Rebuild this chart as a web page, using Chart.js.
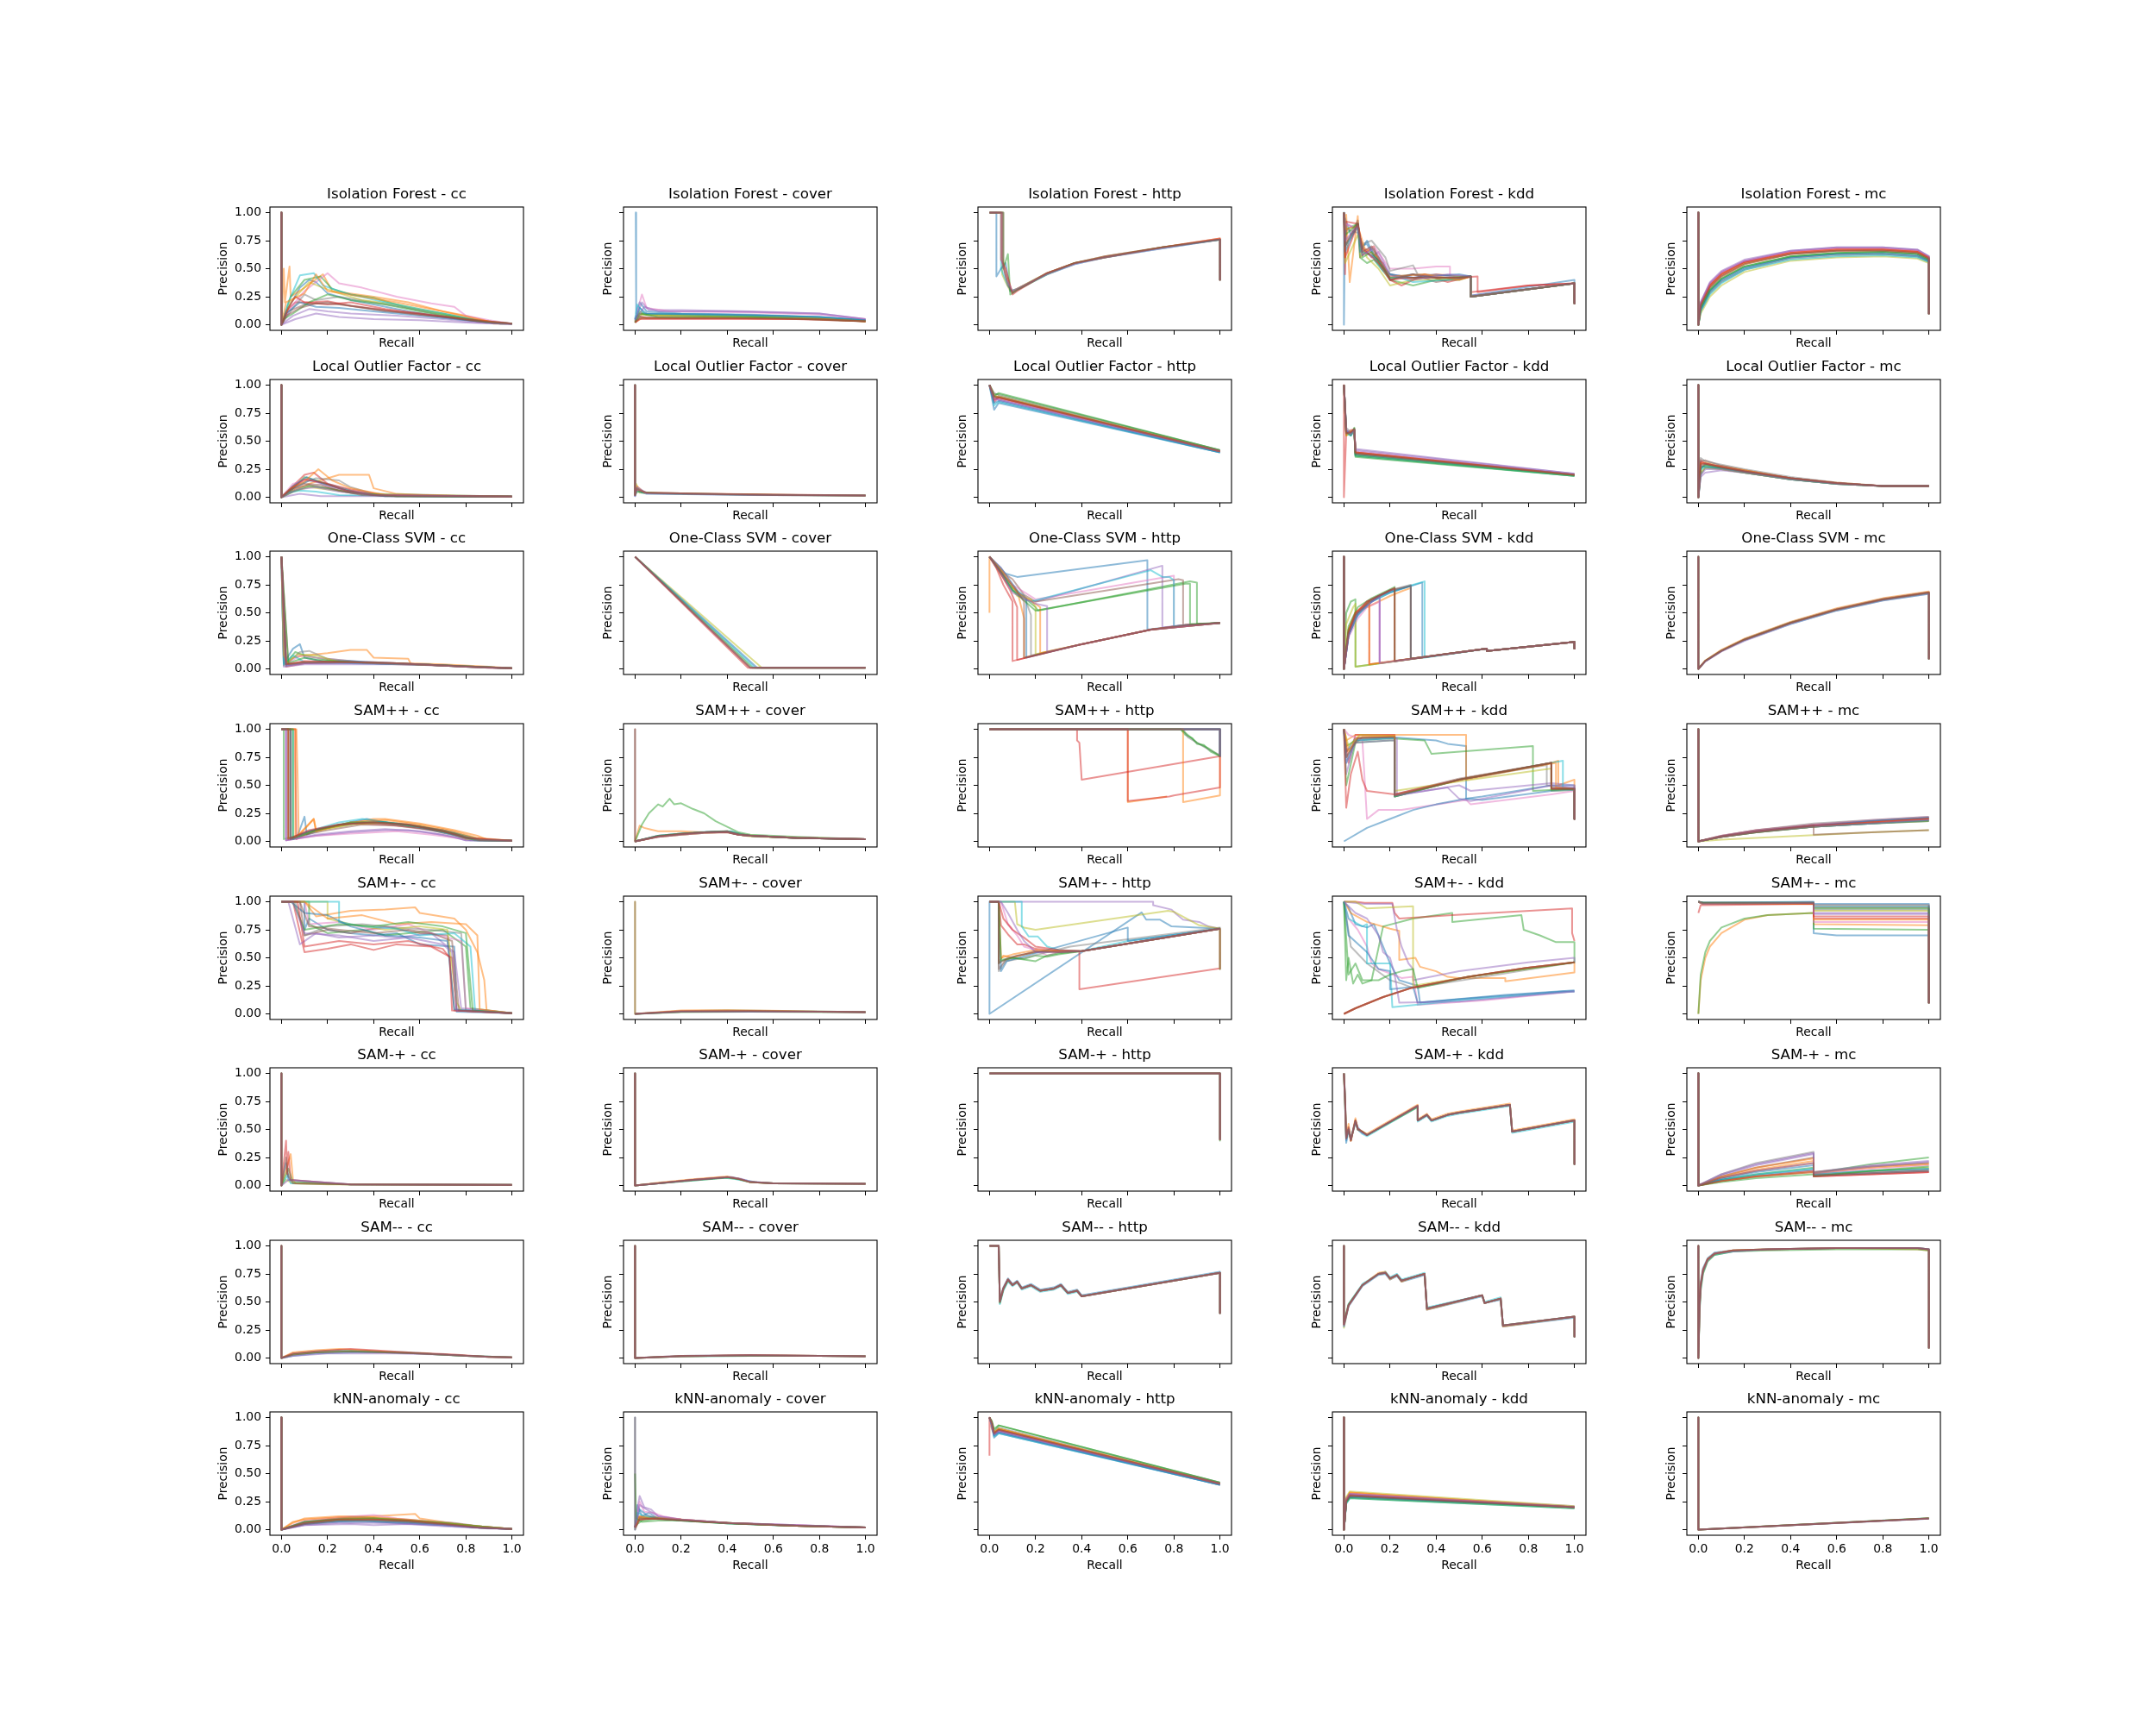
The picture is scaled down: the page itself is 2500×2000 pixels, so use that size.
<!DOCTYPE html>
<html>
<head>
<meta charset="utf-8">
<script src="https://cdn.jsdelivr.net/npm/chart.js"></script>
<style>
  body { margin: 0; background: #fff; }
  #fig { position: relative; width: 2500px; height: 2000px; background: #fff; }
  #fig canvas { position: absolute; }
</style>
</head>
<body>
<div id="fig"></div>
<script>
// Row / column labels and ticks
const methods = ['Isolation Forest', 'Local Outlier Factor', 'One-Class SVM', 'SAM++', 'SAM+-', 'SAM-+', 'SAM--', 'kNN-anomaly'];
const dataNames = ['cc', 'cover', 'http', 'kdd', 'mc'];
const xTicks = [0, 0.2, 0.4, 0.6, 0.8, 1.0];
const yTicks = [0, 0.25, 0.5, 0.75, 1.0];

// Each panel: list of runs, every run a flat list recall,precision,recall,precision,...
// --- Isolation Forest ---
const IF_CC = [
  [0,1, 0,0, 0.03,0.15, 0.08,0.33, 0.12,0.4, 0.15,0.38, 0.2,0.28, 0.3,0.22, 0.4,0.18, 0.55,0.12, 0.7,0.07, 0.85,0.03, 0.95,0.01, 1,0.01],
  [0,1, 0,0, 0.01,0.5, 0.015,0.2, 0.035,0.52, 0.04,0.25, 0.1,0.33, 0.18,0.45, 0.22,0.3, 0.4,0.25, 0.55,0.2, 0.7,0.12, 0.8,0.08, 0.88,0.04, 0.92,0.01, 1,0.01],
  [0,1, 0,0, 0.04,0.25, 0.1,0.4, 0.17,0.43, 0.22,0.32, 0.3,0.27, 0.4,0.24, 0.55,0.15, 0.7,0.1, 0.85,0.04, 0.95,0.01, 1,0.01],
  [0,1, 0,0, 0.02,0.12, 0.06,0.2, 0.12,0.2, 0.2,0.21, 0.3,0.17, 0.45,0.13, 0.6,0.09, 0.75,0.06, 0.9,0.02, 1,0.01],
  [0,1, 0,0, 0.05,0.08, 0.12,0.14, 0.2,0.12, 0.3,0.1, 0.5,0.08, 0.7,0.05, 0.85,0.02, 1,0.005],
  [0,1, 0,0, 0.03,0.12, 0.1,0.18, 0.2,0.2, 0.3,0.17, 0.45,0.12, 0.6,0.1, 0.75,0.06, 0.9,0.02, 1,0.01],
  [0,1, 0,0, 0.04,0.15, 0.1,0.3, 0.2,0.46, 0.25,0.37, 0.35,0.33, 0.5,0.25, 0.65,0.19, 0.75,0.16, 0.8,0.08, 0.9,0.04, 1,0.01],
  [0,1, 0,0, 0.05,0.15, 0.1,0.27, 0.15,0.22, 0.25,0.25, 0.4,0.2, 0.55,0.15, 0.7,0.08, 0.85,0.04, 1,0.01],
  [0,1, 0,0, 0.04,0.2, 0.12,0.38, 0.18,0.33, 0.25,0.28, 0.35,0.22, 0.5,0.18, 0.65,0.12, 0.8,0.05, 1,0.01],
  [0,1, 0,0, 0.03,0.2, 0.08,0.44, 0.14,0.46, 0.18,0.35, 0.28,0.28, 0.45,0.2, 0.6,0.14, 0.75,0.08, 0.9,0.02, 1,0.01],
  [0,1, 0,0, 0.02,0.1, 0.08,0.2, 0.15,0.16, 0.25,0.15, 0.4,0.12, 0.6,0.08, 0.8,0.04, 1,0.01],
  [0,1, 0,0, 0.02,0.2, 0.1,0.28, 0.15,0.45, 0.2,0.3, 0.35,0.25, 0.5,0.2, 0.7,0.12, 0.85,0.05, 0.92,0.02, 1,0.01],
  [0,1, 0,0, 0.01,0.05, 0.05,0.1, 0.12,0.2, 0.2,0.27, 0.3,0.22, 0.45,0.18, 0.6,0.12, 0.75,0.07, 0.9,0.02, 1,0.01],
  [0,1, 0,0, 0.03,0.15, 0.06,0.25, 0.1,0.2, 0.2,0.18, 0.3,0.2, 0.45,0.14, 0.6,0.1, 0.8,0.05, 1,0.01],
  [0,1, 0,0, 0.06,0.05, 0.15,0.1, 0.25,0.07, 0.4,0.05, 0.6,0.04, 0.8,0.02, 1,0.005],
  [0,1, 0,0, 0.02,0.08, 0.08,0.15, 0.15,0.19, 0.25,0.18, 0.4,0.14, 0.55,0.1, 0.7,0.07, 0.85,0.03, 1,0.01]
];
const IF_COVER = [
  [0,1, 0.003,1, 0.005,0.1, 0.02,0.2, 0.05,0.12, 0.2,0.1, 0.5,0.09, 0.8,0.07, 1,0.04],
  [0,0.05, 0.02,0.1, 0.1,0.08, 0.4,0.07, 0.8,0.06, 1,0.03],
  [0,0.02, 0.02,0.12, 0.05,0.09, 0.3,0.08, 0.7,0.07, 1,0.04],
  [0,0.03, 0.01,0.08, 0.05,0.06, 0.4,0.06, 0.8,0.05, 1,0.03],
  [0,0.05, 0.03,0.2, 0.06,0.13, 0.2,0.13, 0.5,0.12, 0.8,0.1, 1,0.05],
  [0,0.02, 0.02,0.07, 0.2,0.06, 0.6,0.06, 1,0.03],
  [0,0.05, 0.03,0.27, 0.05,0.15, 0.15,0.12, 0.5,0.11, 0.8,0.09, 1,0.05],
  [0,0.03, 0.03,0.1, 0.2,0.09, 0.6,0.08, 1,0.04],
  [0,0.03, 0.02,0.09, 0.3,0.08, 0.7,0.07, 1,0.03],
  [0,0.05, 0.01,0.18, 0.04,0.1, 0.3,0.09, 0.8,0.07, 1,0.04],
  [0,0.04, 0.02,0.15, 0.05,0.1, 0.4,0.09, 0.8,0.07, 1,0.04],
  [0,0.02, 0.03,0.06, 0.3,0.06, 0.8,0.05, 1,0.03],
  [0,0.02, 0.02,0.1, 0.1,0.07, 0.5,0.07, 1,0.03],
  [0,0.02, 0.02,0.05, 0.3,0.05, 0.7,0.05, 1,0.03],
  [0,0.04, 0.04,0.16, 0.1,0.12, 0.4,0.12, 0.8,0.1, 1,0.05],
  [0,0.02, 0.02,0.06, 0.4,0.06, 0.8,0.05, 1,0.03]
];
const IF_HTTP = [
  [0,1, 0.055,1, 0.055,0.45, 0.07,0.38, 0.09,0.3, 0.12,0.32, 0.25,0.46, 0.37,0.55, 0.5,0.6, 0.75,0.69, 1,0.76, 1,0.4],
  [0,1, 0.05,1, 0.05,0.5, 0.08,0.35, 0.1,0.28, 0.12,0.31, 0.25,0.45, 0.37,0.54, 0.5,0.6, 0.75,0.68, 1,0.76, 1,0.4],
  [0,1, 0.03,1, 0.03,0.43, 0.05,0.5, 0.07,0.55, 0.09,0.3, 0.12,0.32, 0.25,0.46, 0.37,0.55, 0.5,0.6, 0.75,0.69, 1,0.76, 1,0.4],
  [0,1, 0.055,1, 0.055,0.6, 0.07,0.45, 0.1,0.29, 0.12,0.32, 0.25,0.46, 0.37,0.55, 0.5,0.6, 0.75,0.69, 1,0.77, 1,0.4],
  [0,1, 0.06,1, 0.06,0.5, 0.08,0.63, 0.09,0.27, 0.12,0.31, 0.25,0.45, 0.37,0.55, 0.5,0.61, 0.75,0.69, 1,0.76, 1,0.4],
  [0,1, 0.05,1, 0.05,0.58, 0.07,0.5, 0.1,0.27, 0.12,0.3, 0.25,0.46, 0.37,0.55, 0.5,0.61, 0.75,0.69, 1,0.77, 1,0.4],
  [0,1, 0.055,1, 0.055,0.55, 0.075,0.4, 0.1,0.3, 0.12,0.32, 0.25,0.45, 0.37,0.54, 0.5,0.6, 0.75,0.68, 1,0.76, 1,0.4],
  [0,1, 0.06,1, 0.06,0.52, 0.08,0.35, 0.1,0.29, 0.12,0.31, 0.25,0.46, 0.37,0.55, 0.5,0.6, 0.75,0.69, 1,0.76, 1,0.4]
];
const IF_KDD = [
  [0,1, 0,0, 0.005,0.95, 0.03,0.8, 0.06,0.88, 0.07,0.7, 0.1,0.72, 0.13,0.6, 0.17,0.5, 0.2,0.42, 0.3,0.45, 0.4,0.42, 0.5,0.42, 0.55,0.43, 0.55,0.26, 1,0.4, 1,0.19],
  [0,1, 0.005,0.6, 0.01,0.98, 0.025,0.38, 0.06,0.97, 0.07,0.6, 0.1,0.66, 0.13,0.7, 0.15,0.55, 0.2,0.45, 0.3,0.4, 0.4,0.45, 0.5,0.43, 0.55,0.43, 0.55,0.25, 1,0.37, 1,0.19],
  [0,1, 0.005,0.75, 0.01,0.85, 0.06,0.9, 0.07,0.6, 0.1,0.55, 0.13,0.58, 0.17,0.48, 0.2,0.4, 0.3,0.35, 0.4,0.4, 0.5,0.4, 0.55,0.43, 0.55,0.25, 1,0.37, 1,0.19],
  [0,1, 0.005,0.45, 0.01,0.92, 0.06,0.9, 0.08,0.65, 0.12,0.62, 0.17,0.55, 0.2,0.4, 0.25,0.35, 0.35,0.45, 0.45,0.38, 0.55,0.43, 0.55,0.29, 0.8,0.35, 1,0.37, 1,0.19],
  [0,1, 0.005,0.8, 0.01,0.9, 0.06,0.85, 0.08,0.7, 0.12,0.6, 0.15,0.65, 0.2,0.45, 0.3,0.42, 0.4,0.45, 0.5,0.42, 0.55,0.43, 0.55,0.26, 1,0.37, 1,0.19],
  [0,1, 0.005,0.7, 0.06,0.93, 0.08,0.62, 0.12,0.68, 0.15,0.58, 0.2,0.4, 0.3,0.45, 0.4,0.38, 0.55,0.43, 0.55,0.25, 1,0.37, 1,0.19],
  [0,1, 0.005,0.9, 0.06,0.85, 0.08,0.65, 0.13,0.7, 0.2,0.5, 0.3,0.5, 0.4,0.52, 0.46,0.52, 0.46,0.42, 0.55,0.43, 0.55,0.25, 1,0.37, 1,0.19],
  [0,1, 0.01,0.85, 0.06,0.82, 0.08,0.72, 0.12,0.75, 0.18,0.6, 0.2,0.48, 0.3,0.53, 0.32,0.45, 0.55,0.43, 0.55,0.25, 1,0.37, 1,0.19],
  [0,1, 0.005,0.55, 0.06,0.8, 0.1,0.6, 0.15,0.5, 0.2,0.35, 0.3,0.4, 0.4,0.4, 0.55,0.43, 0.55,0.25, 1,0.37, 1,0.19],
  [0,1, 0.005,0.7, 0.06,0.87, 0.08,0.65, 0.12,0.62, 0.17,0.48, 0.2,0.45, 0.3,0.38, 0.45,0.4, 0.55,0.43, 0.55,0.25, 1,0.37, 1,0.19],
  [0,1, 0.005,0.65, 0.06,0.9, 0.07,0.65, 0.1,0.75, 0.13,0.62, 0.2,0.45, 0.3,0.42, 0.5,0.45, 0.55,0.43, 0.55,0.25, 1,0.37, 1,0.19],
  [0,1, 0.006,0.85, 0.06,0.88, 0.09,0.68, 0.15,0.6, 0.2,0.43, 0.35,0.45, 0.5,0.4, 0.55,0.43, 0.55,0.25, 1,0.37, 1,0.19],
  [0,1, 0.005,0.8, 0.06,0.9, 0.08,0.6, 0.12,0.65, 0.2,0.42, 0.3,0.42, 0.45,0.42, 0.55,0.43, 0.55,0.25, 1,0.37, 1,0.19],
  [0,1, 0.005,0.6, 0.06,0.9, 0.08,0.68, 0.15,0.55, 0.2,0.4, 0.28,0.42, 0.5,0.42, 0.58,0.43, 0.58,0.29, 0.8,0.35, 1,0.37, 1,0.19],
  [0,1, 0.005,0.75, 0.06,0.88, 0.08,0.62, 0.13,0.68, 0.2,0.44, 0.3,0.4, 0.45,0.45, 0.55,0.43, 0.55,0.25, 1,0.37, 1,0.19],
  [0,1, 0.005,0.7, 0.06,0.9, 0.08,0.65, 0.12,0.7, 0.15,0.6, 0.2,0.4, 0.3,0.45, 0.4,0.42, 0.5,0.42, 0.55,0.43, 0.55,0.25, 1,0.37, 1,0.19]
];
const IF_MC = [
  [0,1, 0,0, 0.01,0.13, 0.05,0.29, 0.1,0.39, 0.2,0.5, 0.4,0.6, 0.6,0.63, 0.8,0.63, 0.95,0.61, 1,0.57, 1,0.1],
  [0,1, 0,0, 0.01,0.17, 0.05,0.33, 0.1,0.43, 0.2,0.54, 0.4,0.63, 0.6,0.66, 0.8,0.66, 0.95,0.64, 1,0.59, 1,0.1],
  [0,1, 0,0, 0.01,0.15, 0.05,0.31, 0.1,0.41, 0.2,0.52, 0.4,0.61, 0.6,0.64, 0.8,0.65, 0.95,0.63, 1,0.58, 1,0.1],
  [0,1, 0,0, 0.01,0.19, 0.05,0.36, 0.1,0.46, 0.2,0.56, 0.4,0.65, 0.6,0.68, 0.8,0.68, 0.95,0.66, 1,0.6, 1,0.1],
  [0,1, 0,0, 0.01,0.2, 0.05,0.38, 0.1,0.48, 0.2,0.58, 0.4,0.66, 0.6,0.69, 0.8,0.69, 0.95,0.67, 1,0.61, 1,0.1],
  [0,1, 0,0, 0.01,0.17, 0.05,0.34, 0.1,0.44, 0.2,0.55, 0.4,0.63, 0.6,0.66, 0.8,0.67, 0.95,0.65, 1,0.59, 1,0.1],
  [0,1, 0,0, 0.01,0.19, 0.05,0.37, 0.1,0.47, 0.2,0.57, 0.4,0.65, 0.6,0.68, 0.8,0.68, 0.95,0.66, 1,0.6, 1,0.1],
  [0,1, 0,0, 0.01,0.12, 0.05,0.28, 0.1,0.38, 0.2,0.49, 0.4,0.59, 0.6,0.62, 0.8,0.63, 0.95,0.61, 1,0.56, 1,0.1],
  [0,1, 0,0, 0.01,0.1, 0.05,0.25, 0.1,0.35, 0.2,0.47, 0.4,0.57, 0.6,0.6, 0.8,0.61, 0.95,0.59, 1,0.55, 1,0.1],
  [0,1, 0,0, 0.01,0.12, 0.05,0.27, 0.1,0.37, 0.2,0.49, 0.4,0.58, 0.6,0.61, 0.8,0.62, 0.95,0.6, 1,0.56, 1,0.1],
  [0,1, 0,0, 0.01,0.14, 0.05,0.3, 0.1,0.4, 0.2,0.51, 0.4,0.6, 0.6,0.63, 0.8,0.64, 0.95,0.62, 1,0.57, 1,0.1],
  [0,1, 0,0, 0.01,0.18, 0.05,0.35, 0.1,0.45, 0.2,0.55, 0.4,0.64, 0.6,0.67, 0.8,0.67, 0.95,0.65, 1,0.6, 1,0.1],
  [0,1, 0,0, 0.01,0.15, 0.05,0.31, 0.1,0.41, 0.2,0.52, 0.4,0.61, 0.6,0.64, 0.8,0.65, 0.95,0.63, 1,0.58, 1,0.1],
  [0,1, 0,0, 0.01,0.18, 0.05,0.35, 0.1,0.45, 0.2,0.56, 0.4,0.64, 0.6,0.67, 0.8,0.67, 0.95,0.65, 1,0.6, 1,0.1],
  [0,1, 0,0, 0.01,0.2, 0.05,0.37, 0.1,0.47, 0.2,0.57, 0.4,0.66, 0.6,0.69, 0.8,0.69, 0.95,0.67, 1,0.61, 1,0.1],
  [0,1, 0,0, 0.01,0.17, 0.05,0.33, 0.1,0.43, 0.2,0.54, 0.4,0.63, 0.6,0.66, 0.8,0.66, 0.95,0.64, 1,0.59, 1,0.1]
];
// --- Local Outlier Factor ---
const LOF_CC = [
  [0,1, 0,0, 0.05,0.08, 0.12,0.15, 0.2,0.12, 0.3,0.06, 0.4,0.02, 0.6,0.01, 1,0.005],
  [0,1, 0,0, 0.05,0.06, 0.12,0.12, 0.25,0.2, 0.38,0.2, 0.4,0.08, 0.5,0.03, 0.7,0.01, 1,0.005],
  [0,1, 0,0, 0.04,0.06, 0.1,0.18, 0.15,0.15, 0.25,0.08, 0.35,0.03, 0.5,0.01, 1,0.005],
  [0,1, 0,0, 0.05,0.1, 0.1,0.2, 0.14,0.22, 0.2,0.12, 0.3,0.07, 0.45,0.02, 1,0.005],
  [0,1, 0,0, 0.08,0.03, 0.17,0.01, 0.4,0.01, 1,0.005],
  [0,1, 0,0, 0.06,0.08, 0.12,0.11, 0.2,0.08, 0.3,0.04, 0.45,0.01, 1,0.005],
  [0,1, 0,0, 0.05,0.12, 0.12,0.16, 0.2,0.1, 0.3,0.05, 0.45,0.02, 1,0.005],
  [0,1, 0,0, 0.06,0.1, 0.15,0.17, 0.25,0.15, 0.3,0.09, 0.4,0.03, 1,0.005],
  [0,1, 0,0, 0.05,0.05, 0.12,0.09, 0.2,0.07, 0.35,0.03, 1,0.005],
  [0,1, 0,0, 0.03,0.04, 0.08,0.06, 0.15,0.05, 0.25,0.02, 1,0.005],
  [0,1, 0,0, 0.05,0.1, 0.11,0.18, 0.18,0.12, 0.3,0.05, 0.45,0.01, 1,0.005],
  [0,1, 0,0, 0.04,0.08, 0.1,0.14, 0.16,0.25, 0.22,0.15, 0.3,0.08, 0.45,0.02, 1,0.005],
  [0,1, 0,0, 0.06,0.06, 0.12,0.1, 0.2,0.08, 0.3,0.04, 0.5,0.01, 1,0.005],
  [0,1, 0,0, 0.05,0.09, 0.1,0.16, 0.18,0.13, 0.28,0.06, 0.4,0.02, 1,0.005],
  [0,1, 0,0, 0.07,0.07, 0.15,0.09, 0.25,0.05, 0.4,0.02, 1,0.005],
  [0,1, 0,0, 0.04,0.07, 0.1,0.12, 0.17,0.11, 0.25,0.06, 0.35,0.02, 0.5,0.01, 1,0.005]
];
const LOF_COVER = [
  [0,1, 0,0.02, 0.005,0.12, 0.02,0.04, 0.2,0.03, 0.6,0.02, 1,0.015],
  [0,1, 0,0.02, 0.01,0.08, 0.03,0.04, 0.2,0.035, 0.6,0.02, 1,0.015],
  [0,1, 0,0.01, 0.005,0.06, 0.05,0.03, 0.3,0.025, 1,0.015],
  [0,1, 0,0.02, 0.008,0.1, 0.04,0.04, 0.3,0.03, 0.7,0.02, 1,0.015],
  [0,1, 0,0.02, 0.01,0.05, 0.1,0.035, 0.4,0.025, 1,0.015],
  [0,1, 0,0.02, 0.005,0.07, 0.05,0.04, 0.3,0.03, 1,0.015],
  [0,1, 0,0.01, 0.01,0.09, 0.05,0.035, 0.5,0.02, 1,0.015],
  [0,1, 0,0.02, 0.007,0.08, 0.05,0.04, 0.3,0.03, 0.6,0.02, 1,0.015]
];
const LOF_HTTP = [
  [0,1, 0.02,0.78, 0.04,0.84, 1,0.4],
  [0,1, 0.02,0.9, 0.04,0.88, 1,0.41],
  [0,1, 0.02,0.92, 0.04,0.92, 1,0.42],
  [0,1, 0.02,0.85, 0.04,0.89, 1,0.41],
  [0,1, 0.02,0.9, 0.04,0.87, 1,0.41],
  [0,1, 0.02,0.88, 0.04,0.9, 1,0.41],
  [0,1, 0.02,0.86, 0.04,0.88, 1,0.41],
  [0,1, 0.02,0.93, 0.04,0.91, 1,0.42],
  [0,1, 0.02,0.89, 0.04,0.9, 1,0.41],
  [0,1, 0.02,0.82, 0.04,0.85, 1,0.4],
  [0,1, 0.02,0.84, 0.04,0.86, 1,0.4],
  [0,1, 0.02,0.91, 0.04,0.89, 1,0.41],
  [0,1, 0.02,0.9, 0.04,0.93, 1,0.42],
  [0,1, 0.02,0.87, 0.04,0.89, 1,0.41],
  [0,1, 0.02,0.88, 0.04,0.87, 1,0.41],
  [0,1, 0.02,0.9, 0.04,0.89, 1,0.41]
];
const LOF_KDD = [
  [0,1, 0.01,0.58, 0.03,0.55, 0.045,0.6, 0.05,0.38, 1,0.2],
  [0,1, 0.01,0.55, 0.03,0.58, 0.045,0.57, 0.05,0.39, 1,0.2],
  [0,1, 0.01,0.6, 0.03,0.55, 0.045,0.62, 0.05,0.36, 1,0.19],
  [0,1, 0,0, 0.01,0.57, 0.03,0.6, 0.045,0.6, 0.05,0.4, 1,0.2],
  [0,1, 0.01,0.6, 0.03,0.57, 0.045,0.6, 0.05,0.43, 1,0.21],
  [0,1, 0.01,0.56, 0.03,0.58, 0.045,0.61, 0.05,0.39, 1,0.2],
  [0,1, 0.01,0.58, 0.03,0.56, 0.045,0.6, 0.05,0.41, 1,0.2],
  [0,1, 0.01,0.62, 0.03,0.58, 0.045,0.6, 0.05,0.4, 1,0.2],
  [0,1, 0.01,0.55, 0.03,0.57, 0.045,0.58, 0.05,0.38, 1,0.2],
  [0,1, 0.01,0.57, 0.03,0.55, 0.045,0.59, 0.05,0.37, 1,0.19],
  [0,1, 0.01,0.59, 0.03,0.57, 0.045,0.6, 0.05,0.38, 1,0.2],
  [0,1, 0.01,0.56, 0.03,0.59, 0.045,0.6, 0.05,0.4, 1,0.2],
  [0,1, 0.01,0.58, 0.03,0.56, 0.045,0.61, 0.05,0.37, 1,0.19],
  [0,1, 0.01,0.57, 0.03,0.58, 0.045,0.6, 0.05,0.4, 1,0.2],
  [0,1, 0.01,0.6, 0.03,0.56, 0.045,0.6, 0.05,0.42, 1,0.21],
  [0,1, 0.01,0.57, 0.03,0.58, 0.045,0.61, 0.05,0.39, 1,0.2]
];
const LOF_MC = [
  [0,1, 0,0, 0.01,0.25, 0.03,0.3, 0.1,0.26, 0.2,0.23, 0.4,0.17, 0.6,0.125, 0.8,0.1, 1,0.1],
  [0,1, 0,0, 0.01,0.3, 0.03,0.28, 0.1,0.28, 0.2,0.24, 0.4,0.17, 0.6,0.13, 0.8,0.1, 1,0.1],
  [0,1, 0,0, 0.01,0.2, 0.03,0.27, 0.1,0.25, 0.2,0.22, 0.4,0.16, 0.6,0.12, 0.8,0.1, 1,0.1],
  [0,1, 0,0, 0.01,0.33, 0.03,0.3, 0.1,0.27, 0.2,0.23, 0.4,0.17, 0.6,0.125, 0.8,0.1, 1,0.1],
  [0,1, 0,0, 0.01,0.18, 0.03,0.22, 0.1,0.24, 0.2,0.22, 0.4,0.16, 0.6,0.12, 0.8,0.1, 1,0.1],
  [0,1, 0,0, 0.01,0.32, 0.03,0.33, 0.1,0.28, 0.2,0.24, 0.4,0.17, 0.6,0.125, 0.8,0.1, 1,0.1],
  [0,1, 0,0, 0.01,0.27, 0.03,0.3, 0.1,0.27, 0.2,0.23, 0.4,0.17, 0.6,0.125, 0.8,0.1, 1,0.1],
  [0,1, 0,0, 0.01,0.35, 0.03,0.32, 0.1,0.29, 0.2,0.25, 0.4,0.18, 0.6,0.13, 0.8,0.1, 1,0.1],
  [0,1, 0,0, 0.01,0.22, 0.03,0.26, 0.1,0.25, 0.2,0.22, 0.4,0.16, 0.6,0.12, 0.8,0.1, 1,0.1],
  [0,1, 0,0, 0.01,0.24, 0.03,0.28, 0.1,0.26, 0.2,0.23, 0.4,0.16, 0.6,0.12, 0.8,0.1, 1,0.1],
  [0,1, 0,0, 0.01,0.28, 0.03,0.27, 0.1,0.26, 0.2,0.23, 0.4,0.17, 0.6,0.125, 0.8,0.1, 1,0.1],
  [0,1, 0,0, 0.01,0.3, 0.03,0.31, 0.1,0.27, 0.2,0.24, 0.4,0.17, 0.6,0.125, 0.8,0.1, 1,0.1],
  [0,1, 0,0, 0.01,0.26, 0.03,0.29, 0.1,0.26, 0.2,0.22, 0.4,0.16, 0.6,0.12, 0.8,0.1, 1,0.1],
  [0,1, 0,0, 0.01,0.31, 0.03,0.3, 0.1,0.27, 0.2,0.23, 0.4,0.17, 0.6,0.125, 0.8,0.1, 1,0.1],
  [0,1, 0,0, 0.01,0.2, 0.03,0.25, 0.1,0.25, 0.2,0.22, 0.4,0.16, 0.6,0.12, 0.8,0.1, 1,0.1],
  [0,1, 0,0, 0.01,0.29, 0.03,0.3, 0.1,0.27, 0.2,0.23, 0.4,0.17, 0.6,0.125, 0.8,0.1, 1,0.1]
];
// --- One-Class SVM ---
const OCSVM_CC = [
  [0,1, 0.01,0.05, 0.05,0.18, 0.08,0.22, 0.1,0.1, 0.2,0.06, 0.4,0.05, 0.6,0.04, 0.8,0.02, 1,0.005],
  [0,1, 0.02,0.05, 0.05,0.1, 0.1,0.12, 0.2,0.14, 0.3,0.17, 0.37,0.17, 0.4,0.1, 0.55,0.09, 0.56,0.05, 0.7,0.04, 0.9,0.02, 1,0.005],
  [0,1, 0.01,0.03, 0.06,0.15, 0.1,0.12, 0.2,0.08, 0.4,0.05, 0.6,0.04, 0.8,0.02, 1,0.005],
  [0,1, 0.02,0.02, 0.1,0.05, 0.3,0.06, 0.5,0.05, 0.7,0.03, 0.9,0.01, 1,0.005],
  [0,1, 0.01,0.02, 0.1,0.04, 0.3,0.04, 0.5,0.04, 0.7,0.03, 0.9,0.01, 1,0.005],
  [0,1, 0.03,0.04, 0.1,0.05, 0.3,0.06, 0.5,0.04, 0.7,0.03, 1,0.005],
  [0,1, 0.02,0.04, 0.08,0.12, 0.15,0.1, 0.3,0.07, 0.5,0.05, 0.7,0.03, 1,0.005],
  [0,1, 0.02,0.04, 0.08,0.15, 0.12,0.16, 0.2,0.09, 0.4,0.05, 0.7,0.03, 1,0.005],
  [0,1, 0.02,0.05, 0.07,0.13, 0.15,0.12, 0.25,0.06, 0.5,0.05, 0.8,0.02, 1,0.005],
  [0,1, 0.01,0.04, 0.05,0.12, 0.1,0.06, 0.3,0.05, 0.6,0.04, 1,0.005],
  [0,1, 0.02,0.03, 0.1,0.06, 0.3,0.07, 0.5,0.05, 0.8,0.02, 1,0.005],
  [0,1, 0.01,0.12, 0.03,0.04, 0.1,0.06, 0.3,0.06, 0.6,0.04, 1,0.005],
  [0,1, 0.03,0.05, 0.1,0.1, 0.15,0.08, 0.3,0.06, 0.6,0.04, 1,0.005],
  [0,1, 0.02,0.04, 0.1,0.07, 0.3,0.06, 0.5,0.05, 0.8,0.02, 1,0.005],
  [0,1, 0.02,0.03, 0.1,0.05, 0.3,0.05, 0.6,0.04, 0.8,0.02, 1,0.005],
  [0,1, 0.02,0.04, 0.1,0.06, 0.3,0.06, 0.5,0.05, 0.7,0.03, 1,0.005]
];
const OCSVM_COVER = [
  [0,1, 0.55,0.01, 1,0.01],
  [0,1, 0.52,0.01, 1,0.01],
  [0,1, 0.53,0.01, 1,0.01],
  [0,1, 0.5,0.01, 1,0.01],
  [0,1, 0.51,0.01, 1,0.01],
  [0,1, 0.49,0.01, 1,0.01],
  [0,1, 0.5,0.01, 1,0.01],
  [0,1, 0.5,0.01, 1,0.01]
];
const OCSVM_HTTP = [
  [0,1, 0.03,0.93, 0.07,0.85, 0.12,0.82, 0.685,0.97, 0.685,0.35, 0.85,0.39, 1,0.41],
  [0,0.5, 0,1, 0.03,0.9, 0.08,0.75, 0.12,0.7, 0.15,0.45, 0.15,0.1, 0.4,0.22, 0.7,0.35, 0.85,0.39, 1,0.41],
  [0,1, 0.05,0.88, 0.1,0.72, 0.2,0.55, 0.21,0.52, 0.87,0.78, 0.9,0.77, 0.9,0.4, 1,0.41],
  [0,1, 0.03,0.9, 0.06,0.75, 0.1,0.6, 0.1,0.07, 0.4,0.22, 0.7,0.35, 0.85,0.39, 1,0.41],
  [0,1, 0.04,0.9, 0.1,0.7, 0.15,0.62, 0.2,0.6, 0.75,0.92, 0.75,0.37, 0.85,0.39, 1,0.41],
  [0,1, 0.05,0.87, 0.1,0.8, 0.15,0.66, 0.2,0.6, 0.82,0.8, 0.84,0.79, 0.84,0.39, 1,0.41],
  [0,1, 0.05,0.9, 0.1,0.75, 0.2,0.62, 0.8,0.83, 0.8,0.38, 1,0.41],
  [0,1, 0.04,0.9, 0.1,0.7, 0.15,0.65, 0.18,0.48, 0.18,0.12, 0.4,0.22, 0.7,0.35, 1,0.41],
  [0,1, 0.05,0.85, 0.12,0.65, 0.18,0.62, 0.2,0.55, 0.2,0.13, 0.4,0.22, 0.7,0.35, 1,0.41],
  [0,1, 0.05,0.85, 0.1,0.7, 0.18,0.6, 0.7,0.88, 0.75,0.82, 0.78,0.82, 0.8,0.79, 0.8,0.38, 1,0.41],
  [0,1, 0.05,0.9, 0.12,0.7, 0.16,0.63, 0.16,0.1, 0.4,0.22, 0.7,0.35, 1,0.41],
  [0,1, 0.06,0.86, 0.12,0.68, 0.2,0.58, 0.22,0.55, 0.22,0.14, 0.4,0.22, 0.7,0.35, 1,0.41],
  [0,1, 0.05,0.86, 0.1,0.7, 0.2,0.52, 0.85,0.76, 0.87,0.76, 0.87,0.4, 1,0.41],
  [0,1, 0.04,0.88, 0.09,0.7, 0.12,0.55, 0.12,0.08, 0.4,0.22, 0.7,0.35, 1,0.41],
  [0,1, 0.05,0.85, 0.1,0.68, 0.2,0.58, 0.25,0.56, 0.25,0.15, 0.4,0.22, 0.7,0.35, 1,0.41],
  [0,1, 0.05,0.86, 0.11,0.72, 0.15,0.6, 0.15,0.1, 0.4,0.22, 0.7,0.35, 0.85,0.39, 1,0.41]
];
const OCSVM_KDD = [
  [0,1, 0,0, 0.02,0.3, 0.05,0.45, 0.1,0.58, 0.2,0.68, 0.34,0.77, 0.34,0.1, 0.62,0.18, 0.62,0.16, 1,0.24, 1,0.18],
  [0,1, 0,0, 0.02,0.35, 0.06,0.5, 0.1,0.55, 0.2,0.65, 0.26,0.7, 0.29,0.72, 0.29,0.09, 0.62,0.18, 0.62,0.16, 1,0.24, 1,0.18],
  [0,1, 0,0, 0.01,0.5, 0.03,0.6, 0.05,0.62, 0.05,0.02, 0.62,0.18, 0.62,0.16, 1,0.24, 1,0.18],
  [0,1, 0,0, 0.02,0.35, 0.05,0.5, 0.1,0.58, 0.11,0.6, 0.11,0.04, 0.62,0.18, 0.62,0.16, 1,0.24, 1,0.18],
  [0,1, 0,0, 0.02,0.3, 0.06,0.48, 0.12,0.6, 0.155,0.64, 0.155,0.05, 0.62,0.18, 0.62,0.16, 1,0.24, 1,0.18],
  [0,1, 0,0, 0.02,0.33, 0.05,0.48, 0.1,0.6, 0.2,0.7, 0.22,0.72, 0.22,0.07, 0.62,0.18, 0.62,0.16, 1,0.24, 1,0.18],
  [0,1, 0,0, 0.02,0.28, 0.06,0.45, 0.1,0.55, 0.155,0.6, 0.155,0.05, 0.62,0.18, 0.62,0.16, 1,0.24, 1,0.18],
  [0,1, 0,0, 0.02,0.32, 0.06,0.5, 0.12,0.62, 0.2,0.7, 0.29,0.75, 0.29,0.09, 0.62,0.18, 0.62,0.16, 1,0.24, 1,0.18],
  [0,1, 0,0, 0.01,0.4, 0.04,0.55, 0.05,0.58, 0.05,0.02, 0.62,0.18, 0.62,0.16, 1,0.24, 1,0.18],
  [0,1, 0,0, 0.02,0.3, 0.06,0.48, 0.12,0.6, 0.2,0.68, 0.3,0.75, 0.35,0.78, 0.35,0.1, 0.62,0.18, 0.62,0.16, 1,0.24, 1,0.18],
  [0,1, 0,0, 0.02,0.3, 0.06,0.5, 0.15,0.65, 0.22,0.7, 0.29,0.74, 0.29,0.09, 0.62,0.18, 0.62,0.16, 1,0.24, 1,0.18],
  [0,1, 0,0, 0.02,0.35, 0.05,0.5, 0.11,0.6, 0.11,0.04, 0.62,0.18, 0.62,0.16, 1,0.24, 1,0.18],
  [0,1, 0,0, 0.02,0.38, 0.06,0.55, 0.12,0.63, 0.22,0.73, 0.22,0.07, 0.62,0.18, 0.62,0.16, 1,0.24, 1,0.18],
  [0,1, 0,0, 0.02,0.32, 0.05,0.5, 0.1,0.6, 0.2,0.7, 0.22,0.72, 0.22,0.07, 0.62,0.18, 0.62,0.16, 1,0.24, 1,0.18],
  [0,1, 0,0, 0.02,0.3, 0.06,0.5, 0.155,0.65, 0.155,0.05, 0.62,0.18, 0.62,0.16, 1,0.24, 1,0.18],
  [0,1, 0,0, 0.02,0.32, 0.05,0.48, 0.11,0.6, 0.2,0.7, 0.29,0.74, 0.29,0.09, 0.62,0.18, 0.62,0.16, 1,0.24, 1,0.18]
];
const OCSVM_MC = [
  [0,1, 0,0, 0.03,0.07, 0.1,0.16, 0.2,0.26, 0.4,0.41, 0.6,0.53, 0.8,0.62, 1,0.68, 1,0.09],
  [0,1, 0,0, 0.03,0.07, 0.1,0.16, 0.2,0.255, 0.4,0.4, 0.6,0.52, 0.8,0.61, 1,0.67, 1,0.09],
  [0,1, 0,0, 0.03,0.07, 0.1,0.165, 0.2,0.265, 0.4,0.415, 0.6,0.535, 0.8,0.625, 1,0.685, 1,0.09],
  [0,1, 0,0, 0.03,0.075, 0.1,0.17, 0.2,0.27, 0.4,0.42, 0.6,0.54, 0.8,0.63, 1,0.69, 1,0.09],
  [0,1, 0,0, 0.03,0.07, 0.1,0.16, 0.2,0.26, 0.4,0.41, 0.6,0.525, 0.8,0.615, 1,0.675, 1,0.09],
  [0,1, 0,0, 0.03,0.07, 0.1,0.16, 0.2,0.26, 0.4,0.41, 0.6,0.53, 0.8,0.62, 1,0.68, 1,0.09],
  [0,1, 0,0, 0.03,0.065, 0.1,0.155, 0.2,0.25, 0.4,0.4, 0.6,0.52, 0.8,0.61, 1,0.67, 1,0.09],
  [0,1, 0,0, 0.03,0.07, 0.1,0.16, 0.2,0.26, 0.4,0.41, 0.6,0.53, 0.8,0.62, 1,0.68, 1,0.09]
];
// --- SAM++ ---
const SAMPP_CC = [
  [0,1, 0.03,1, 0.03,0.02, 0.07,0.05, 0.1,0.22, 0.11,0.06, 0.2,0.12, 0.3,0.17, 0.37,0.2, 0.5,0.15, 0.6,0.12, 0.75,0.06, 0.82,0.01, 1,0.005],
  [0,1, 0.065,1, 0.07,0.6, 0.075,0.05, 0.14,0.2, 0.15,0.1, 0.25,0.14, 0.4,0.2, 0.45,0.2, 0.6,0.16, 0.75,0.1, 0.85,0.05, 0.9,0.01, 1,0.005],
  [0,1, 0.01,1, 0.01,0.02, 0.1,0.07, 0.2,0.12, 0.35,0.17, 0.5,0.16, 0.7,0.1, 0.8,0.05, 0.88,0.01, 1,0.005],
  [0,1, 0.06,1, 0.06,0.75, 0.065,0.02, 0.15,0.1, 0.3,0.16, 0.45,0.15, 0.6,0.12, 0.75,0.07, 0.82,0.02, 1,0.005],
  [0,1, 0.02,1, 0.02,0.01, 0.15,0.05, 0.3,0.08, 0.45,0.1, 0.55,0.1, 0.7,0.06, 0.8,0.01, 1,0.005],
  [0,1, 0.03,1, 0.03,0.02, 0.1,0.06, 0.2,0.1, 0.35,0.15, 0.5,0.14, 0.65,0.1, 0.78,0.04, 0.85,0.01, 1,0.005],
  [0,1, 0.02,1, 0.02,0.01, 0.15,0.05, 0.3,0.07, 0.5,0.09, 0.65,0.06, 0.8,0.02, 1,0.005],
  [0,1, 0.04,1, 0.04,0.02, 0.15,0.1, 0.3,0.17, 0.45,0.16, 0.6,0.13, 0.75,0.08, 0.85,0.02, 1,0.005],
  [0,1, 0.03,1, 0.03,0.02, 0.12,0.08, 0.3,0.15, 0.45,0.17, 0.6,0.14, 0.72,0.08, 0.8,0.02, 1,0.005],
  [0,1, 0.05,1, 0.05,0.02, 0.12,0.09, 0.25,0.17, 0.35,0.2, 0.5,0.16, 0.65,0.11, 0.78,0.04, 0.85,0.01, 1,0.005],
  [0,1, 0.04,1, 0.04,0.02, 0.1,0.08, 0.25,0.15, 0.4,0.18, 0.55,0.15, 0.7,0.09, 0.8,0.03, 1,0.005],
  [0,1, 0.06,1, 0.06,0.03, 0.14,0.2, 0.15,0.09, 0.3,0.17, 0.45,0.19, 0.6,0.15, 0.75,0.09, 0.85,0.03, 1,0.005],
  [0,1, 0.05,1, 0.05,0.02, 0.15,0.1, 0.3,0.17, 0.45,0.17, 0.6,0.13, 0.75,0.07, 0.84,0.01, 1,0.005],
  [0,1, 0.03,1, 0.03,0.02, 0.12,0.1, 0.25,0.15, 0.4,0.17, 0.55,0.15, 0.7,0.09, 0.8,0.03, 1,0.005],
  [0,1, 0.02,1, 0.02,0.01, 0.15,0.06, 0.3,0.09, 0.45,0.11, 0.6,0.09, 0.75,0.04, 0.8,0.01, 1,0.005],
  [0,1, 0.04,1, 0.04,0.02, 0.12,0.09, 0.25,0.15, 0.4,0.17, 0.55,0.15, 0.7,0.1, 0.8,0.04, 0.86,0.01, 1,0.005]
];
const SAMPP_COVER = [
  [0,0, 0.1,0.05, 0.2,0.07, 0.3,0.08, 0.4,0.09, 0.45,0.07, 0.5,0.05, 0.7,0.03, 1,0.02],
  [0,0, 0.02,0.14, 0.04,0.12, 0.06,0.11, 0.1,0.09, 0.2,0.09, 0.3,0.08, 0.4,0.09, 0.45,0.06, 0.6,0.04, 1,0.02],
  [0,0, 0.03,0.15, 0.06,0.25, 0.1,0.33, 0.12,0.31, 0.15,0.38, 0.17,0.33, 0.2,0.34, 0.25,0.29, 0.3,0.25, 0.35,0.18, 0.4,0.13, 0.45,0.08, 0.5,0.06, 0.7,0.04, 1,0.02],
  [0,0, 0.1,0.045, 0.2,0.065, 0.3,0.08, 0.4,0.085, 0.45,0.06, 0.5,0.05, 0.7,0.03, 1,0.02],
  [0,0, 0.1,0.04, 0.2,0.06, 0.3,0.075, 0.4,0.08, 0.45,0.06, 0.5,0.05, 0.7,0.03, 1,0.02],
  [0,1, 0,0, 0.1,0.045, 0.2,0.065, 0.3,0.08, 0.4,0.085, 0.45,0.06, 0.5,0.05, 0.7,0.03, 1,0.02],
  [0,0, 0.1,0.05, 0.2,0.07, 0.3,0.08, 0.4,0.09, 0.45,0.07, 0.5,0.05, 0.7,0.03, 1,0.02],
  [0,0, 0.1,0.045, 0.2,0.065, 0.3,0.08, 0.38,0.09, 0.42,0.07, 0.5,0.05, 0.7,0.03, 1,0.02],
  [0,0, 0.1,0.04, 0.2,0.06, 0.3,0.075, 0.4,0.085, 0.45,0.06, 0.5,0.045, 0.7,0.03, 1,0.02],
  [0,0, 0.1,0.05, 0.2,0.07, 0.3,0.085, 0.42,0.09, 0.46,0.06, 0.5,0.05, 0.7,0.03, 1,0.02],
  [0,0, 0.1,0.045, 0.2,0.065, 0.3,0.08, 0.4,0.085, 0.45,0.06, 0.5,0.05, 0.7,0.03, 1,0.02],
  [0,0, 0.1,0.04, 0.2,0.06, 0.3,0.075, 0.4,0.08, 0.45,0.06, 0.5,0.05, 0.7,0.03, 1,0.02],
  [0,0, 0.1,0.05, 0.2,0.07, 0.3,0.08, 0.4,0.09, 0.45,0.07, 0.5,0.05, 0.7,0.03, 1,0.02],
  [0,0, 0.1,0.045, 0.2,0.065, 0.3,0.08, 0.4,0.085, 0.45,0.06, 0.5,0.05, 0.7,0.03, 1,0.02],
  [0,0, 0.1,0.04, 0.2,0.06, 0.3,0.075, 0.4,0.085, 0.45,0.06, 0.5,0.05, 0.7,0.03, 1,0.02],
  [0,1, 0,0, 0.1,0.045, 0.2,0.065, 0.3,0.08, 0.4,0.085, 0.45,0.06, 0.5,0.05, 0.7,0.03, 1,0.02]
];
const SAMPP_HTTP = [
  [0,1, 1,1, 1,0.76],
  [0,1, 0.6,1, 0.6,0.35, 0.77,0.4],
  [0,1, 0.83,1, 0.85,0.95, 0.88,0.92, 0.9,0.87, 0.93,0.86, 0.96,0.8, 1,0.76],
  [0,1, 0.38,1, 0.38,0.9, 0.39,0.88, 0.4,0.55, 1,0.76],
  [0,1, 1,1, 1,0.76],
  [0,1, 1,1, 1,0.76],
  [0,1, 1,1, 1,0.76],
  [0,1, 0.84,1, 0.86,0.93, 0.9,0.88, 0.95,0.82, 1,0.77],
  [0,1, 1,1, 1,0.76],
  [0,1, 1,1, 1,0.76],
  [0,1, 1,1, 1,0.76],
  [0,1, 0.84,1, 0.84,0.35, 1,0.41, 1,0.76],
  [0,1, 0.83,1, 0.86,0.95, 0.9,0.88, 0.95,0.83, 1,0.76],
  [0,1, 0.6,1, 0.6,0.36, 0.78,0.4, 0.8,0.41, 1,0.48, 1,0.76],
  [0,1, 1,1, 1,0.76],
  [0,1, 1,1, 1,0.76]
];
const SAMPP_KDD = [
  [0,1, 0.01,0.8, 0.05,0.92, 0.2,0.93, 0.4,0.9, 0.45,0.87, 0.53,0.85, 0.53,0.38, 0.6,0.4, 0.9,0.5, 1,0.5, 1,0.2],
  [0,1, 0.01,0.9, 0.05,0.95, 0.3,0.95, 0.53,0.95, 0.53,0.55, 0.9,0.7, 0.93,0.72, 0.93,0.5, 1,0.55, 1,0.2],
  [0,1, 0.01,0.85, 0.05,0.9, 0.2,0.92, 0.35,0.9, 0.38,0.78, 0.82,0.85, 0.82,0.45, 1,0.47, 1,0.2],
  [0,1, 0.02,0.7, 0.05,0.95, 0.15,0.95, 0.22,0.95, 0.22,0.4, 0.5,0.55, 0.9,0.7, 0.9,0.47, 1,0.47, 1,0.2],
  [0,1, 0.01,0.6, 0.05,0.9, 0.2,0.92, 0.23,0.92, 0.23,0.41, 0.5,0.5, 0.55,0.45, 0.9,0.52, 1,0.5, 1,0.2],
  [0,1, 0.01,0.8, 0.08,0.93, 0.22,0.93, 0.22,0.42, 0.5,0.56, 0.9,0.7, 0.9,0.48, 1,0.47, 1,0.2],
  [0,1, 0.02,0.95, 0.08,0.9, 0.1,0.2, 0.15,0.28, 0.25,0.28, 0.53,0.37, 0.55,0.33, 0.9,0.42, 1,0.45, 1,0.2],
  [0,1, 0.01,0.75, 0.06,0.92, 0.22,0.93, 0.22,0.4, 0.5,0.55, 0.88,0.68, 0.88,0.5, 1,0.47, 1,0.2],
  [0,1, 0.02,0.85, 0.07,0.95, 0.22,0.94, 0.22,0.45, 0.55,0.55, 0.9,0.65, 0.9,0.45, 1,0.46, 1,0.2],
  [0,1, 0.01,0.7, 0.05,0.9, 0.2,0.92, 0.22,0.92, 0.22,0.4, 0.5,0.55, 0.95,0.72, 0.95,0.47, 1,0.47, 1,0.2],
  [0,0, 0.1,0.12, 0.2,0.2, 0.3,0.28, 0.4,0.33, 0.53,0.38, 0.6,0.37, 0.9,0.45, 1,0.46, 1,0.2],
  [0,1, 0.02,0.8, 0.06,0.93, 0.22,0.94, 0.22,0.41, 0.55,0.57, 0.92,0.7, 0.92,0.48, 1,0.47, 1,0.2],
  [0,1, 0.01,0.5, 0.05,0.88, 0.2,0.9, 0.22,0.9, 0.22,0.4, 0.5,0.55, 0.9,0.7, 0.9,0.46, 1,0.47, 1,0.2],
  [0,1, 0.01,0.3, 0.03,0.6, 0.06,0.8, 0.08,0.55, 0.1,0.45, 0.22,0.42, 0.5,0.55, 0.9,0.7, 0.9,0.47, 1,0.47, 1,0.2],
  [0,1, 0.01,0.7, 0.05,0.88, 0.2,0.9, 0.22,0.9, 0.22,0.41, 0.45,0.48, 0.5,0.38, 0.55,0.36, 0.9,0.5, 1,0.48, 1,0.2],
  [0,1, 0.01,0.75, 0.06,0.92, 0.22,0.93, 0.22,0.41, 0.5,0.55, 0.9,0.7, 0.9,0.47, 1,0.47, 1,0.2]
];
const SAMPP_MC = [
  [0,1, 0,0, 0.1,0.04, 0.25,0.09, 0.5,0.14, 0.75,0.18, 1,0.21],
  [0,1, 0,0, 0.1,0.045, 0.25,0.09, 0.5,0.14, 0.75,0.17, 1,0.2],
  [0,1, 0,0, 0.1,0.04, 0.25,0.08, 0.5,0.13, 0.75,0.16, 1,0.19],
  [0,1, 0,0, 0.1,0.05, 0.25,0.1, 0.5,0.15, 0.75,0.18, 1,0.21],
  [0,1, 0,0, 0.1,0.045, 0.25,0.09, 0.5,0.14, 0.75,0.17, 1,0.2],
  [0,1, 0,0, 0.1,0.04, 0.25,0.08, 0.5,0.13, 0.75,0.16, 1,0.18],
  [0,1, 0,0, 0.1,0.05, 0.25,0.1, 0.5,0.15, 0.75,0.19, 1,0.22],
  [0,1, 0,0, 0.1,0.05, 0.25,0.1, 0.5,0.16, 0.75,0.19, 1,0.22],
  [0,1, 0,0, 0.1,0.015, 0.25,0.03, 0.5,0.055, 0.75,0.08, 1,0.1],
  [0,1, 0,0, 0.1,0.04, 0.25,0.085, 0.5,0.13, 0.75,0.16, 1,0.19],
  [0,1, 0,0, 0.1,0.045, 0.25,0.09, 0.5,0.14, 0.75,0.18, 1,0.21],
  [0,1, 0,0, 0.1,0.04, 0.25,0.085, 0.5,0.13, 0.75,0.17, 1,0.2],
  [0,1, 0,0, 0.1,0.04, 0.25,0.08, 0.5,0.13, 0.75,0.16, 1,0.18],
  [0,1, 0,0, 0.1,0.045, 0.25,0.09, 0.5,0.14, 0.75,0.17, 1,0.2],
  [0,1, 0,0, 0.1,0.04, 0.25,0.085, 0.5,0.13, 0.75,0.16, 1,0.19],
  [0,1, 0,0, 0.1,0.04, 0.25,0.08, 0.5,0.14, 0.5,0.06, 0.75,0.08, 1,0.1]
];
// --- SAM+- ---
const SAMPM_CC = [
  [0,1, 0.1,1, 0.1,0.75, 0.12,0.85, 0.2,0.75, 0.3,0.72, 0.4,0.7, 0.5,0.72, 0.6,0.62, 0.75,0.6, 0.76,0.02, 1,0.005],
  [0,1, 0.1,1, 0.15,0.87, 0.3,0.92, 0.45,0.93, 0.58,0.95, 0.6,0.9, 0.75,0.85, 0.8,0.75, 0.85,0.55, 0.88,0.3, 0.89,0.03, 1,0.005],
  [0,1, 0.12,1, 0.12,0.8, 0.2,0.72, 0.35,0.75, 0.45,0.7, 0.55,0.72, 0.7,0.75, 0.8,0.6, 0.82,0.05, 1,0.005],
  [0,1, 0.05,1, 0.1,0.55, 0.2,0.58, 0.3,0.62, 0.4,0.57, 0.5,0.62, 0.65,0.6, 0.74,0.5, 0.76,0.03, 1,0.005],
  [0,1, 0.03,1, 0.08,0.62, 0.15,0.72, 0.25,0.68, 0.4,0.7, 0.5,0.68, 0.65,0.72, 0.75,0.55, 0.78,0.05, 1,0.005],
  [0,1, 0.08,1, 0.1,0.7, 0.2,0.75, 0.3,0.72, 0.45,0.78, 0.6,0.72, 0.72,0.7, 0.75,0.03, 1,0.005],
  [0,1, 0.1,1, 0.12,0.8, 0.25,0.82, 0.4,0.75, 0.55,0.8, 0.65,0.72, 0.78,0.65, 0.8,0.05, 1,0.005],
  [0,1, 0.06,1, 0.1,0.7, 0.2,0.78, 0.35,0.8, 0.5,0.77, 0.65,0.75, 0.78,0.72, 0.8,0.03, 1,0.005],
  [0,1, 0.2,1, 0.2,0.85, 0.3,0.8, 0.45,0.75, 0.6,0.78, 0.72,0.75, 0.76,0.1, 0.78,0.03, 1,0.005],
  [0,1, 0.25,1, 0.25,0.82, 0.35,0.78, 0.5,0.76, 0.6,0.7, 0.75,0.72, 0.82,0.6, 0.84,0.03, 1,0.005],
  [0,1, 0.04,1, 0.1,0.9, 0.2,0.88, 0.3,0.78, 0.45,0.7, 0.6,0.68, 0.72,0.65, 0.75,0.04, 1,0.005],
  [0,1, 0.1,1, 0.2,0.85, 0.35,0.88, 0.5,0.8, 0.65,0.82, 0.8,0.8, 0.85,0.7, 0.86,0.04, 1,0.005],
  [0,1, 0.05,1, 0.1,0.75, 0.25,0.8, 0.4,0.78, 0.55,0.82, 0.7,0.78, 0.8,0.72, 0.83,0.03, 1,0.005],
  [0,1, 0.07,1, 0.1,0.6, 0.25,0.65, 0.4,0.62, 0.55,0.65, 0.7,0.58, 0.73,0.5, 0.74,0.03, 1,0.005],
  [0,1, 0.05,1, 0.1,0.72, 0.25,0.7, 0.4,0.65, 0.55,0.68, 0.7,0.62, 0.74,0.55, 0.76,0.03, 1,0.005],
  [0,1, 0.08,1, 0.12,0.78, 0.25,0.75, 0.4,0.72, 0.55,0.75, 0.65,0.72, 0.74,0.65, 0.77,0.03, 1,0.005]
];
const SAMPM_COVER = [
  [0,1, 0,0, 0.2,0.02, 0.5,0.025, 0.8,0.02, 1,0.015],
  [0,0, 0.2,0.025, 0.4,0.03, 0.7,0.025, 1,0.015],
  [0,0, 0.2,0.02, 0.5,0.02, 0.8,0.02, 1,0.015],
  [0,0, 0.2,0.03, 0.4,0.035, 0.7,0.025, 1,0.015],
  [0,0, 0.2,0.015, 0.5,0.02, 0.8,0.015, 1,0.015],
  [0,0, 0.2,0.025, 0.5,0.025, 0.8,0.02, 1,0.015],
  [0,0, 0.2,0.02, 0.5,0.02, 0.8,0.02, 1,0.015],
  [0,1, 0,0, 0.2,0.02, 0.5,0.025, 0.8,0.02, 1,0.015]
];
const SAMPM_HTTP = [
  [0,1, 0,0, 0.66,0.905, 0.68,0.84, 0.74,0.84, 0.79,0.78, 1,0.76],
  [0,1, 0.04,1, 0.04,0.46, 0.06,0.52, 0.1,0.5, 0.15,0.53, 0.2,0.55, 0.25,0.56, 0.3,0.55, 0.4,0.56, 1,0.76],
  [0,1, 0.04,1, 0.04,0.45, 0.05,0.47, 0.1,0.5, 0.15,0.49, 0.2,0.52, 0.25,0.51, 0.3,0.53, 0.4,0.56, 1,0.76],
  [0,1, 0.04,1, 0.05,0.79, 0.08,0.71, 0.12,0.62, 0.15,0.62, 0.2,0.58, 0.3,0.56, 0.39,0.56, 0.39,0.22, 1,0.405, 1,0.76],
  [0,1, 0.71,1, 0.71,0.97, 0.79,0.93, 0.81,0.89, 0.84,0.84, 0.91,0.82, 0.95,0.78, 1,0.76],
  [0,1, 0.04,1, 0.04,0.4, 0.07,0.48, 0.12,0.52, 0.2,0.55, 0.3,0.56, 0.4,0.56, 1,0.76],
  [0,1, 0.05,1, 0.08,0.8, 0.12,0.7, 0.15,0.6, 0.2,0.57, 0.25,0.52, 0.3,0.55, 0.4,0.56, 1,0.76],
  [0,1, 0.04,1, 0.04,0.38, 0.07,0.47, 0.15,0.5, 0.25,0.55, 0.35,0.6, 1,0.77, 1,0.4],
  [0,1, 0.11,1, 0.12,0.8, 0.15,0.77, 0.2,0.75, 0.775,0.92, 0.8,0.91, 0.91,0.79, 1,0.76, 1,0.4],
  [0,1, 0.14,1, 0.14,0.78, 0.17,0.69, 0.21,0.69, 0.25,0.6, 0.3,0.57, 0.4,0.56, 0.6,0.65, 1,0.76],
  [0,1, 0.04,1, 0.05,0.38, 0.075,0.47, 0.6,0.77, 0.6,0.65, 1,0.76],
  [0,1, 0.04,1, 0.05,0.5, 0.1,0.53, 0.2,0.57, 0.3,0.56, 0.4,0.56, 1,0.76],
  [0,1, 0.04,1, 0.05,0.48, 0.1,0.5, 0.2,0.47, 0.25,0.52, 0.3,0.54, 0.4,0.56, 1,0.76],
  [0,1, 0.04,1, 0.06,0.85, 0.1,0.75, 0.15,0.68, 0.2,0.6, 0.3,0.57, 0.4,0.56, 1,0.76],
  [0,1, 0.05,1, 0.08,0.9, 0.12,0.75, 0.15,0.65, 0.2,0.55, 0.3,0.55, 0.4,0.56, 1,0.76],
  [0,1, 0.04,1, 0.04,0.45, 0.08,0.5, 0.15,0.53, 0.2,0.56, 0.3,0.55, 0.4,0.56, 1,0.76, 1,0.4]
];
const SAMPM_KDD = [
  [0,1, 0.02,0.95, 0.05,0.8, 0.1,0.77, 0.13,0.8, 0.2,0.45, 0.24,0.3, 0.32,0.25, 0.33,0.1, 0.5,0.13, 0.95,0.2, 1,0.2],
  [0,1, 0.03,0.9, 0.1,0.82, 0.2,0.76, 0.24,0.74, 0.24,0.48, 0.31,0.5, 0.33,0.42, 0.4,0.38, 0.45,0.33, 0.5,0.32, 0.7,0.32, 0.7,0.29, 1,0.37, 1,0.46],
  [0,1, 0.01,0.3, 0.02,0.5, 0.04,0.27, 0.06,0.35, 0.08,0.27, 0.12,0.3, 0.17,0.78, 0.3,0.85, 0.47,0.9, 0.47,0.82, 0.77,0.88, 0.78,0.75, 0.85,0.7, 0.92,0.64, 1,0.64, 1,0.46],
  [0,1, 0.05,1, 0.09,0.99, 0.21,0.99, 0.22,0.9, 0.24,0.85, 0.47,0.88, 0.99,0.94, 0.99,0.72, 1,0.65],
  [0,1, 0.09,0.98, 0.21,0.98, 0.23,0.75, 0.25,0.6, 0.28,0.45, 0.3,0.4, 0.3,0.3, 0.5,0.38, 0.8,0.46, 1,0.5, 1,0.46],
  [0,0, 0.05,0.05, 0.17,0.15, 0.29,0.23, 0.54,0.33, 0.79,0.41, 1,0.46],
  [0,1, 0.02,0.85, 0.06,0.75, 0.1,0.6, 0.12,0.45, 0.15,0.4, 0.25,0.32, 0.3,0.33, 0.32,0.08, 0.6,0.12, 1,0.2],
  [0,1, 0.03,0.6, 0.1,0.45, 0.2,0.3, 0.25,0.27, 0.3,0.23, 1,0.46],
  [0,1, 0.05,1, 0.1,0.94, 0.2,0.95, 0.3,0.96, 0.3,0.25, 0.54,0.33, 1,0.46],
  [0,1, 0.02,0.85, 0.08,0.78, 0.1,0.8, 0.1,0.45, 0.2,0.45, 0.21,0.06, 0.5,0.12, 0.99,0.2, 1,0.2],
  [0,1, 0.02,0.7, 0.1,0.55, 0.15,0.4, 0.2,0.38, 0.2,0.22, 0.3,0.24, 0.32,0.1, 0.7,0.17, 1,0.21],
  [0,0, 0.05,0.05, 0.17,0.15, 0.29,0.23, 0.54,0.33, 0.79,0.41, 1,0.46],
  [0,1, 0.02,0.35, 0.05,0.45, 0.08,0.3, 0.15,0.3, 0.2,0.35, 0.25,0.38, 0.3,0.4, 0.32,0.23, 0.54,0.33, 1,0.46],
  [0,0, 0.05,0.05, 0.17,0.15, 0.29,0.23, 0.54,0.33, 0.79,0.41, 1,0.46],
  [0,1, 0.05,0.9, 0.1,0.85, 0.15,0.7, 0.17,0.55, 0.2,0.5, 0.22,0.35, 0.24,0.1, 0.5,0.11, 0.99,0.2, 1,0.2],
  [0,0, 0.05,0.05, 0.17,0.15, 0.29,0.23, 0.54,0.33, 0.79,0.41, 1,0.46]
];
const SAMPM_MC = [
  [0,1, 0.02,0.99, 0.5,0.99, 0.5,0.72, 0.6,0.7, 1,0.7, 1,0.1],
  [0,0, 0.01,0.3, 0.03,0.5, 0.05,0.6, 0.1,0.72, 0.2,0.84, 0.3,0.88, 0.5,0.9, 0.5,0.8, 1,0.79, 1,0.1],
  [0,0, 0.01,0.35, 0.03,0.55, 0.05,0.65, 0.1,0.77, 0.2,0.85, 0.3,0.88, 0.5,0.9, 0.5,0.76, 1,0.75, 1,0.1],
  [0,1, 0.02,0.98, 0.5,0.99, 0.5,0.85, 1,0.85, 1,0.1],
  [0,1, 0.02,0.98, 0.5,0.99, 0.5,0.9, 1,0.9, 1,0.1],
  [0,1, 0.02,0.99, 0.5,0.99, 0.5,0.95, 1,0.95, 1,0.1],
  [0,1, 0.02,0.98, 0.5,0.98, 0.5,0.82, 1,0.82, 1,0.1],
  [0,1, 0.02,0.99, 0.5,0.99, 0.5,0.93, 1,0.93, 1,0.1],
  [0,1, 0.02,0.98, 0.5,0.98, 0.5,0.92, 1,0.92, 1,0.1],
  [0,1, 0.02,0.99, 0.5,0.99, 0.5,0.96, 1,0.96, 1,0.1],
  [0,1, 0.02,0.99, 0.5,1, 0.5,0.98, 1,0.98, 1,0.1],
  [0,1, 0.02,0.98, 0.5,0.98, 0.5,0.84, 1,0.84, 1,0.1],
  [0,1, 0.02,0.99, 0.5,0.99, 0.5,0.94, 1,0.94, 1,0.1],
  [0,0.9, 0.01,0.97, 0.5,0.98, 0.5,0.87, 1,0.87, 1,0.1],
  [0,1, 0.02,0.98, 0.5,0.99, 0.5,0.89, 1,0.89, 1,0.1],
  [0,1, 0.02,0.99, 0.5,0.99, 0.5,0.97, 1,0.97, 1,0.1]
];
// --- SAM-+ ---
const SAMMP_CC = [
  [0,1, 0,0, 0.02,0.05, 0.05,0.02, 0.2,0.01, 1,0.005],
  [0,1, 0,0, 0.03,0.1, 0.04,0.02, 0.3,0.01, 1,0.005],
  [0,1, 0,0, 0.02,0.2, 0.03,0.05, 0.3,0.01, 1,0.005],
  [0,1, 0,0, 0.04,0.28, 0.05,0.05, 0.06,0.02, 0.3,0.01, 1,0.005],
  [0,1, 0,0, 0.03,0.15, 0.05,0.03, 0.3,0.01, 1,0.005],
  [0,1, 0,0, 0.02,0.4, 0.025,0.1, 0.03,0.3, 0.04,0.05, 0.3,0.01, 1,0.005],
  [0,1, 0,0, 0.03,0.05, 0.3,0.01, 1,0.005],
  [0,1, 0,0, 0.02,0.25, 0.03,0.08, 0.05,0.02, 0.3,0.01, 1,0.005]
];
const SAMMP_COVER = [
  [0,1, 0,0, 0.1,0.02, 0.25,0.05, 0.4,0.075, 0.45,0.06, 0.5,0.03, 0.6,0.02, 1,0.015],
  [0,1, 0,0, 0.1,0.02, 0.25,0.045, 0.38,0.07, 0.43,0.06, 0.5,0.03, 0.6,0.02, 1,0.015],
  [0,1, 0,0, 0.1,0.02, 0.25,0.05, 0.42,0.075, 0.47,0.05, 0.52,0.03, 0.6,0.02, 1,0.015],
  [0,1, 0,0, 0.1,0.025, 0.25,0.055, 0.4,0.08, 0.45,0.06, 0.5,0.03, 0.6,0.02, 1,0.015],
  [0,1, 0,0, 0.1,0.02, 0.25,0.045, 0.4,0.07, 0.45,0.055, 0.5,0.03, 0.6,0.02, 1,0.015],
  [0,1, 0,0, 0.1,0.02, 0.25,0.05, 0.4,0.075, 0.45,0.06, 0.5,0.03, 0.6,0.02, 1,0.015],
  [0,1, 0,0, 0.1,0.02, 0.25,0.05, 0.41,0.075, 0.46,0.06, 0.5,0.035, 0.6,0.02, 1,0.015],
  [0,1, 0,0, 0.1,0.02, 0.25,0.05, 0.4,0.075, 0.45,0.06, 0.5,0.03, 0.6,0.02, 1,0.015]
];
const SAMMP_HTTP = [
  [0,1, 1,1, 1,0.41], [0,1, 1,1, 1,0.41], [0,1, 1,1, 1,0.42], [0,1, 1,1, 1,0.41],
  [0,1, 1,1, 1,0.4], [0,1, 1,1, 1,0.41], [0,1, 1,1, 1,0.41], [0,1, 1,1, 1,0.41]
];
const SAMMP_KDD = [
  [0,1, 0.005,0.75, 0.01,0.42, 0.02,0.5, 0.03,0.4, 0.05,0.58, 0.06,0.5, 0.08,0.48, 0.1,0.45, 0.32,0.71, 0.32,0.58, 0.36,0.63, 0.38,0.58, 0.45,0.63, 0.5,0.65, 0.72,0.72, 0.73,0.48, 1,0.58, 1,0.19],
  [0,1, 0.005,0.7, 0.01,0.4, 0.02,0.52, 0.03,0.42, 0.05,0.56, 0.06,0.5, 0.08,0.46, 0.1,0.44, 0.32,0.7, 0.32,0.57, 0.36,0.62, 0.38,0.57, 0.45,0.62, 0.5,0.64, 0.72,0.71, 0.73,0.47, 1,0.57, 1,0.19],
  [0,1, 0.005,0.8, 0.01,0.38, 0.02,0.5, 0.03,0.42, 0.05,0.58, 0.06,0.52, 0.08,0.47, 0.1,0.45, 0.32,0.71, 0.32,0.58, 0.36,0.63, 0.38,0.58, 0.45,0.63, 0.5,0.65, 0.72,0.72, 0.73,0.48, 1,0.58, 1,0.19],
  [0,1, 0.005,0.72, 0.01,0.44, 0.02,0.55, 0.03,0.4, 0.05,0.6, 0.06,0.5, 0.08,0.48, 0.1,0.46, 0.32,0.72, 0.32,0.59, 0.36,0.64, 0.38,0.59, 0.45,0.64, 0.5,0.66, 0.72,0.73, 0.73,0.49, 1,0.59, 1,0.19],
  [0,1, 0.005,0.75, 0.01,0.42, 0.02,0.5, 0.03,0.41, 0.05,0.57, 0.06,0.5, 0.08,0.48, 0.1,0.45, 0.32,0.7, 0.32,0.58, 0.36,0.63, 0.38,0.58, 0.45,0.63, 0.5,0.65, 0.72,0.72, 0.73,0.48, 1,0.58, 1,0.19],
  [0,1, 0.005,0.78, 0.01,0.43, 0.02,0.52, 0.03,0.4, 0.05,0.58, 0.06,0.51, 0.08,0.48, 0.1,0.45, 0.32,0.71, 0.32,0.58, 0.36,0.63, 0.38,0.58, 0.45,0.63, 0.5,0.65, 0.72,0.72, 0.73,0.48, 1,0.58, 1,0.19],
  [0,1, 0.005,0.74, 0.01,0.41, 0.02,0.5, 0.03,0.41, 0.05,0.57, 0.06,0.5, 0.08,0.47, 0.1,0.45, 0.32,0.71, 0.32,0.58, 0.36,0.63, 0.38,0.58, 0.45,0.63, 0.5,0.65, 0.72,0.72, 0.73,0.48, 1,0.58, 1,0.19],
  [0,1, 0.005,0.75, 0.01,0.42, 0.02,0.5, 0.03,0.4, 0.05,0.58, 0.06,0.5, 0.08,0.48, 0.1,0.45, 0.32,0.71, 0.32,0.58, 0.36,0.63, 0.38,0.58, 0.45,0.63, 0.5,0.65, 0.72,0.72, 0.73,0.48, 1,0.58, 1,0.19]
];
const SAMMP_MC = [
  [0,1, 0,0, 0.1,0.05, 0.25,0.09, 0.5,0.14, 0.5,0.1, 0.75,0.13, 1,0.15],
  [0,1, 0,0, 0.1,0.07, 0.25,0.14, 0.5,0.22, 0.5,0.12, 0.75,0.17, 1,0.2],
  [0,1, 0,0, 0.1,0.05, 0.25,0.1, 0.5,0.16, 0.5,0.11, 0.75,0.19, 1,0.25],
  [0,1, 0,0, 0.1,0.04, 0.25,0.08, 0.5,0.13, 0.5,0.08, 0.75,0.1, 1,0.12],
  [0,1, 0,0, 0.1,0.09, 0.25,0.18, 0.5,0.28, 0.5,0.12, 0.75,0.18, 1,0.22],
  [0,1, 0,0, 0.1,0.08, 0.25,0.16, 0.5,0.25, 0.5,0.1, 0.75,0.12, 1,0.14],
  [0,1, 0,0, 0.1,0.07, 0.25,0.13, 0.5,0.2, 0.5,0.1, 0.75,0.15, 1,0.18],
  [0,1, 0,0, 0.1,0.1, 0.25,0.2, 0.5,0.3, 0.5,0.12, 0.75,0.17, 1,0.2],
  [0,1, 0,0, 0.1,0.04, 0.25,0.08, 0.5,0.12, 0.5,0.09, 0.75,0.13, 1,0.16],
  [0,1, 0,0, 0.1,0.05, 0.25,0.1, 0.5,0.15, 0.5,0.1, 0.75,0.13, 1,0.15],
  [0,1, 0,0, 0.1,0.06, 0.25,0.12, 0.5,0.18, 0.5,0.09, 0.75,0.11, 1,0.13],
  [0,1, 0,0, 0.1,0.08, 0.25,0.16, 0.5,0.24, 0.5,0.11, 0.75,0.16, 1,0.19],
  [0,1, 0,0, 0.1,0.03, 0.25,0.065, 0.5,0.1, 0.5,0.08, 0.75,0.13, 1,0.17],
  [0,1, 0,0, 0.1,0.04, 0.25,0.08, 0.5,0.12, 0.5,0.08, 0.75,0.1, 1,0.12],
  [0,1, 0,0, 0.1,0.1, 0.25,0.19, 0.5,0.29, 0.5,0.11, 0.75,0.17, 1,0.21],
  [0,1, 0,0, 0.1,0.07, 0.25,0.13, 0.5,0.2, 0.5,0.09, 0.75,0.11, 1,0.13]
];
// --- SAM-- ---
const SAMMM_CC = [
  [0,1, 0,0, 0.05,0.03, 0.15,0.05, 0.25,0.06, 0.35,0.06, 0.5,0.05, 0.7,0.03, 0.9,0.01, 1,0.005],
  [0,1, 0,0, 0.05,0.04, 0.15,0.06, 0.25,0.07, 0.4,0.06, 0.55,0.05, 0.7,0.03, 0.9,0.01, 1,0.005],
  [0,1, 0,0, 0.05,0.02, 0.15,0.04, 0.3,0.05, 0.45,0.05, 0.6,0.04, 0.8,0.02, 1,0.005],
  [0,1, 0,0, 0.05,0.05, 0.15,0.07, 0.25,0.08, 0.35,0.07, 0.5,0.05, 0.7,0.03, 0.9,0.01, 1,0.005],
  [0,1, 0,0, 0.05,0.03, 0.15,0.05, 0.3,0.06, 0.45,0.05, 0.6,0.04, 0.8,0.02, 1,0.005],
  [0,1, 0,0, 0.05,0.04, 0.15,0.06, 0.3,0.08, 0.4,0.07, 0.55,0.05, 0.75,0.03, 0.9,0.01, 1,0.005],
  [0,1, 0,0, 0.05,0.02, 0.2,0.04, 0.35,0.04, 0.5,0.04, 0.7,0.03, 0.9,0.01, 1,0.005],
  [0,1, 0,0, 0.05,0.03, 0.15,0.05, 0.3,0.06, 0.45,0.05, 0.6,0.04, 0.8,0.02, 1,0.005]
];
const SAMMM_COVER = [
  [0,1, 0,0, 0.2,0.015, 0.5,0.025, 0.8,0.02, 1,0.015],
  [0,1, 0,0, 0.2,0.015, 0.5,0.02, 0.8,0.02, 1,0.015],
  [0,1, 0,0, 0.2,0.02, 0.5,0.025, 0.8,0.02, 1,0.015],
  [0,1, 0,0, 0.2,0.015, 0.5,0.025, 0.8,0.02, 1,0.015],
  [0,1, 0,0, 0.2,0.015, 0.5,0.02, 0.8,0.02, 1,0.015],
  [0,1, 0,0, 0.2,0.02, 0.5,0.025, 0.8,0.02, 1,0.015],
  [0,1, 0,0, 0.2,0.015, 0.5,0.025, 0.8,0.02, 1,0.015],
  [0,1, 0,0, 0.2,0.015, 0.5,0.025, 0.8,0.02, 1,0.015]
];
const SAMMM_HTTP = [
  [0,1, 0.04,1, 0.045,0.5, 0.06,0.62, 0.08,0.7, 0.1,0.65, 0.12,0.68, 0.14,0.62, 0.18,0.65, 0.22,0.6, 0.28,0.62, 0.31,0.65, 0.34,0.58, 0.38,0.6, 0.4,0.55, 1,0.76, 1,0.4],
  [0,1, 0.04,1, 0.045,0.48, 0.06,0.6, 0.08,0.68, 0.1,0.64, 0.12,0.67, 0.14,0.61, 0.18,0.64, 0.22,0.59, 0.28,0.61, 0.31,0.64, 0.34,0.57, 0.38,0.59, 0.4,0.55, 1,0.76, 1,0.4],
  [0,1, 0.04,1, 0.045,0.52, 0.06,0.63, 0.08,0.71, 0.1,0.66, 0.12,0.69, 0.14,0.63, 0.18,0.66, 0.22,0.61, 0.28,0.63, 0.31,0.66, 0.34,0.59, 0.38,0.61, 0.4,0.56, 1,0.77, 1,0.4],
  [0,1, 0.04,1, 0.045,0.5, 0.06,0.62, 0.08,0.7, 0.1,0.65, 0.12,0.68, 0.14,0.62, 0.18,0.65, 0.22,0.6, 0.28,0.62, 0.31,0.65, 0.34,0.58, 0.38,0.6, 0.4,0.55, 1,0.76, 1,0.4],
  [0,1, 0.04,1, 0.045,0.49, 0.06,0.61, 0.08,0.69, 0.1,0.65, 0.12,0.68, 0.14,0.62, 0.18,0.65, 0.22,0.6, 0.28,0.62, 0.31,0.65, 0.34,0.58, 0.38,0.6, 0.4,0.55, 1,0.76, 1,0.4],
  [0,1, 0.04,1, 0.045,0.51, 0.06,0.62, 0.08,0.7, 0.1,0.65, 0.12,0.68, 0.14,0.62, 0.18,0.65, 0.22,0.6, 0.28,0.62, 0.31,0.65, 0.34,0.58, 0.38,0.6, 0.4,0.55, 1,0.76, 1,0.4],
  [0,1, 0.04,1, 0.045,0.5, 0.06,0.62, 0.08,0.7, 0.1,0.65, 0.12,0.68, 0.14,0.62, 0.18,0.65, 0.22,0.6, 0.28,0.62, 0.31,0.65, 0.34,0.58, 0.38,0.6, 0.4,0.55, 1,0.76, 1,0.4],
  [0,1, 0.04,1, 0.045,0.5, 0.06,0.62, 0.08,0.7, 0.1,0.65, 0.12,0.68, 0.14,0.62, 0.18,0.65, 0.22,0.6, 0.28,0.62, 0.31,0.65, 0.34,0.58, 0.38,0.6, 0.4,0.55, 1,0.76, 1,0.4]
];
const SAMMM_KDD = [
  [0,1, 0,0.27, 0.02,0.47, 0.08,0.65, 0.15,0.75, 0.18,0.76, 0.2,0.71, 0.23,0.74, 0.25,0.69, 0.3,0.72, 0.35,0.75, 0.36,0.44, 0.6,0.56, 0.61,0.49, 0.68,0.53, 0.69,0.29, 1,0.37, 1,0.19],
  [0,1, 0,0.3, 0.02,0.48, 0.08,0.66, 0.15,0.75, 0.18,0.77, 0.2,0.72, 0.23,0.75, 0.25,0.7, 0.3,0.73, 0.35,0.76, 0.36,0.45, 0.6,0.56, 0.61,0.5, 0.68,0.54, 0.69,0.29, 1,0.37, 1,0.19],
  [0,1, 0,0.28, 0.02,0.46, 0.08,0.64, 0.15,0.74, 0.18,0.75, 0.2,0.7, 0.23,0.73, 0.25,0.68, 0.3,0.71, 0.35,0.74, 0.36,0.43, 0.6,0.55, 0.61,0.49, 0.68,0.52, 0.69,0.28, 1,0.36, 1,0.19],
  [0,1, 0,0.3, 0.02,0.47, 0.08,0.65, 0.15,0.76, 0.18,0.77, 0.2,0.7, 0.23,0.74, 0.25,0.68, 0.3,0.72, 0.35,0.75, 0.36,0.43, 0.6,0.56, 0.61,0.49, 0.68,0.53, 0.69,0.28, 1,0.37, 1,0.19],
  [0,1, 0,0.32, 0.02,0.48, 0.08,0.65, 0.15,0.75, 0.18,0.76, 0.2,0.71, 0.23,0.74, 0.25,0.69, 0.3,0.72, 0.35,0.75, 0.36,0.44, 0.6,0.56, 0.61,0.49, 0.68,0.53, 0.69,0.29, 1,0.37, 1,0.19],
  [0,1, 0,0.3, 0.02,0.47, 0.08,0.65, 0.15,0.75, 0.18,0.76, 0.2,0.71, 0.23,0.74, 0.25,0.69, 0.3,0.72, 0.35,0.75, 0.36,0.44, 0.6,0.56, 0.61,0.49, 0.68,0.53, 0.69,0.29, 1,0.37, 1,0.19],
  [0,1, 0,0.29, 0.02,0.47, 0.08,0.65, 0.15,0.75, 0.18,0.76, 0.2,0.71, 0.23,0.74, 0.25,0.69, 0.3,0.72, 0.35,0.75, 0.36,0.44, 0.6,0.56, 0.61,0.49, 0.68,0.53, 0.69,0.29, 1,0.37, 1,0.19],
  [0,1, 0,0.3, 0.02,0.47, 0.08,0.65, 0.15,0.75, 0.18,0.76, 0.2,0.71, 0.23,0.74, 0.25,0.69, 0.3,0.72, 0.35,0.75, 0.36,0.44, 0.6,0.56, 0.61,0.49, 0.68,0.53, 0.69,0.29, 1,0.37, 1,0.19]
];
const SAMMM_MC = [
  [0,1, 0,0, 0.005,0.45, 0.01,0.65, 0.02,0.78, 0.04,0.88, 0.07,0.93, 0.15,0.96, 0.3,0.97, 0.6,0.98, 0.95,0.98, 1,0.97, 1,0.09],
  [0,1, 0,0, 0.005,0.42, 0.01,0.62, 0.02,0.76, 0.04,0.87, 0.07,0.92, 0.15,0.95, 0.3,0.97, 0.6,0.98, 0.95,0.98, 1,0.97, 1,0.09],
  [0,1, 0,0, 0.005,0.48, 0.01,0.68, 0.02,0.8, 0.04,0.89, 0.07,0.94, 0.15,0.96, 0.3,0.97, 0.6,0.98, 0.95,0.98, 1,0.97, 1,0.09],
  [0,1, 0,0, 0.005,0.44, 0.01,0.64, 0.02,0.77, 0.04,0.88, 0.07,0.93, 0.15,0.96, 0.3,0.97, 0.6,0.98, 0.95,0.97, 1,0.96, 1,0.09],
  [0,1, 0,0, 0.005,0.4, 0.01,0.6, 0.02,0.75, 0.04,0.86, 0.07,0.92, 0.15,0.95, 0.3,0.96, 0.6,0.97, 0.95,0.97, 1,0.96, 1,0.09],
  [0,1, 0,0, 0.005,0.46, 0.01,0.66, 0.02,0.79, 0.04,0.88, 0.07,0.93, 0.15,0.96, 0.3,0.97, 0.6,0.98, 0.95,0.98, 1,0.97, 1,0.09],
  [0,1, 0,0, 0.005,0.43, 0.01,0.63, 0.02,0.77, 0.04,0.87, 0.07,0.93, 0.15,0.95, 0.3,0.97, 0.6,0.98, 0.95,0.98, 1,0.97, 1,0.09],
  [0,1, 0,0, 0.005,0.45, 0.01,0.65, 0.02,0.78, 0.04,0.88, 0.07,0.93, 0.15,0.96, 0.3,0.97, 0.6,0.98, 0.95,0.98, 1,0.97, 1,0.09]
];
// --- kNN-anomaly ---
const KNN_CC = [
  [0,1, 0,0, 0.1,0.05, 0.2,0.07, 0.35,0.08, 0.5,0.06, 0.7,0.04, 0.85,0.02, 1,0.005],
  [0,1, 0,0, 0.05,0.06, 0.1,0.1, 0.25,0.12, 0.4,0.12, 0.5,0.13, 0.58,0.14, 0.6,0.1, 0.7,0.07, 0.85,0.03, 1,0.005],
  [0,1, 0,0, 0.1,0.07, 0.25,0.1, 0.35,0.11, 0.5,0.09, 0.7,0.06, 0.85,0.03, 1,0.005],
  [0,1, 0,0, 0.1,0.06, 0.2,0.09, 0.35,0.1, 0.5,0.08, 0.7,0.06, 0.85,0.02, 1,0.005],
  [0,1, 0,0, 0.1,0.04, 0.3,0.05, 0.4,0.04, 0.55,0.05, 0.7,0.03, 0.9,0.01, 1,0.005],
  [0,1, 0,0, 0.1,0.06, 0.25,0.09, 0.4,0.09, 0.55,0.07, 0.7,0.05, 0.85,0.02, 1,0.005],
  [0,1, 0,0, 0.1,0.08, 0.25,0.11, 0.4,0.13, 0.5,0.1, 0.65,0.07, 0.85,0.03, 1,0.005],
  [0,1, 0,0, 0.1,0.07, 0.3,0.11, 0.45,0.1, 0.6,0.08, 0.75,0.06, 0.9,0.02, 1,0.005],
  [0,1, 0,0, 0.1,0.06, 0.25,0.09, 0.4,0.1, 0.55,0.08, 0.7,0.06, 0.85,0.03, 1,0.005],
  [0,1, 0,0, 0.1,0.06, 0.25,0.08, 0.4,0.08, 0.55,0.07, 0.7,0.05, 0.85,0.02, 1,0.005],
  [0,1, 0,0, 0.1,0.05, 0.25,0.07, 0.4,0.07, 0.55,0.06, 0.7,0.04, 0.85,0.02, 1,0.005],
  [0,1, 0,0, 0.05,0.07, 0.1,0.09, 0.25,0.11, 0.4,0.11, 0.55,0.09, 0.7,0.06, 0.85,0.03, 1,0.005],
  [0,1, 0,0, 0.1,0.07, 0.25,0.09, 0.4,0.1, 0.55,0.08, 0.7,0.06, 0.85,0.03, 1,0.005],
  [0,1, 0,0, 0.1,0.06, 0.25,0.09, 0.4,0.09, 0.55,0.08, 0.7,0.05, 0.85,0.02, 1,0.005],
  [0,1, 0,0, 0.1,0.04, 0.25,0.06, 0.4,0.06, 0.55,0.05, 0.7,0.04, 0.85,0.02, 1,0.005],
  [0,1, 0,0, 0.1,0.05, 0.25,0.08, 0.4,0.08, 0.55,0.07, 0.7,0.05, 0.85,0.02, 1,0.005]
];
const KNN_COVER = [
  [0,1, 0,0, 0.01,0.22, 0.03,0.12, 0.06,0.15, 0.1,0.1, 0.2,0.08, 0.4,0.06, 0.6,0.04, 0.8,0.03, 1,0.02],
  [0,0.02, 0.01,0.1, 0.04,0.12, 0.1,0.11, 0.2,0.09, 0.4,0.06, 0.6,0.045, 1,0.02],
  [0,0.02, 0.01,0.05, 0.03,0.08, 0.1,0.1, 0.2,0.08, 0.4,0.055, 0.7,0.035, 1,0.02],
  [0,0.02, 0.01,0.12, 0.03,0.1, 0.1,0.1, 0.2,0.09, 0.4,0.06, 0.7,0.035, 1,0.02],
  [0,0.02, 0.01,0.18, 0.02,0.3, 0.04,0.2, 0.07,0.18, 0.1,0.12, 0.2,0.09, 0.4,0.06, 0.7,0.04, 1,0.02],
  [0,0.02, 0.01,0.08, 0.05,0.1, 0.1,0.1, 0.2,0.085, 0.4,0.06, 0.7,0.035, 1,0.02],
  [0,0.02, 0.02,0.25, 0.04,0.16, 0.08,0.15, 0.12,0.12, 0.2,0.09, 0.4,0.06, 0.7,0.04, 1,0.02],
  [0,0.02, 0.02,0.12, 0.06,0.1, 0.2,0.085, 0.4,0.06, 0.7,0.035, 1,0.02],
  [0,0.02, 0.02,0.1, 0.06,0.11, 0.2,0.085, 0.4,0.06, 0.7,0.035, 1,0.02],
  [0,0.02, 0.01,0.15, 0.04,0.12, 0.1,0.1, 0.2,0.085, 0.4,0.06, 0.7,0.035, 1,0.02],
  [0,0.02, 0.02,0.18, 0.05,0.13, 0.1,0.1, 0.2,0.085, 0.4,0.055, 0.7,0.035, 1,0.02],
  [0,0.02, 0.02,0.12, 0.06,0.1, 0.15,0.1, 0.3,0.07, 0.5,0.05, 0.7,0.035, 1,0.02],
  [0,0.5, 0.005,0.1, 0.03,0.07, 0.1,0.08, 0.2,0.08, 0.4,0.055, 0.7,0.035, 1,0.02],
  [0,0.02, 0.02,0.09, 0.08,0.1, 0.2,0.085, 0.4,0.06, 0.7,0.035, 1,0.02],
  [0,0.02, 0.02,0.22, 0.05,0.18, 0.1,0.12, 0.2,0.09, 0.4,0.06, 0.7,0.04, 1,0.02],
  [0,1, 0,0, 0.02,0.1, 0.06,0.1, 0.2,0.085, 0.4,0.06, 0.7,0.035, 1,0.02]
];
const KNN_HTTP = [
  [0,1, 0.01,0.93, 0.02,0.82, 0.04,0.86, 1,0.4],
  [0,1, 0.01,0.95, 0.02,0.86, 0.04,0.9, 1,0.41],
  [0,1, 0.01,0.96, 0.02,0.88, 0.04,0.93, 1,0.42],
  [0,0.66, 0,1, 0.01,0.9, 0.02,0.85, 0.04,0.88, 1,0.41],
  [0,1, 0.01,0.94, 0.02,0.85, 0.04,0.87, 1,0.4],
  [0,1, 0.01,0.95, 0.02,0.86, 0.04,0.89, 1,0.41],
  [0,1, 0.01,0.94, 0.02,0.84, 0.04,0.88, 1,0.41],
  [0,1, 0.01,0.96, 0.02,0.87, 0.04,0.91, 1,0.42],
  [0,1, 0.01,0.95, 0.02,0.86, 0.04,0.9, 1,0.41],
  [0,1, 0.01,0.93, 0.02,0.83, 0.04,0.86, 1,0.4],
  [0,1, 0.01,0.94, 0.02,0.84, 0.04,0.87, 1,0.4],
  [0,1, 0.01,0.95, 0.02,0.87, 0.04,0.9, 1,0.41],
  [0,1, 0.01,0.97, 0.02,0.9, 0.04,0.93, 1,0.42],
  [0,1, 0.01,0.95, 0.02,0.86, 0.04,0.89, 1,0.41],
  [0,1, 0.01,0.94, 0.02,0.85, 0.04,0.88, 1,0.41],
  [0,1, 0.01,0.95, 0.02,0.86, 0.04,0.89, 1,0.41]
];
const KNN_KDD = [
  [0,1, 0,0, 0.01,0.24, 0.025,0.29, 1,0.2],
  [0,1, 0,0, 0.01,0.27, 0.025,0.33, 1,0.2],
  [0,1, 0,0, 0.01,0.25, 0.025,0.3, 1,0.2],
  [0,1, 0,0, 0.01,0.26, 0.025,0.31, 1,0.2],
  [0,1, 0,0, 0.01,0.28, 0.025,0.32, 1,0.21],
  [0,1, 0,0, 0.01,0.25, 0.025,0.3, 1,0.2],
  [0,1, 0,0, 0.01,0.27, 0.025,0.32, 1,0.2],
  [0,1, 0,0, 0.01,0.26, 0.025,0.31, 1,0.2],
  [0,1, 0,0, 0.01,0.29, 0.025,0.34, 1,0.21],
  [0,1, 0,0, 0.01,0.23, 0.025,0.28, 1,0.19],
  [0,1, 0,0, 0.01,0.25, 0.025,0.29, 1,0.2],
  [0,1, 0,0, 0.01,0.27, 0.025,0.33, 1,0.2],
  [0,1, 0,0, 0.01,0.24, 0.025,0.28, 1,0.19],
  [0,1, 0,0, 0.01,0.26, 0.025,0.31, 1,0.2],
  [0,1, 0,0, 0.01,0.27, 0.025,0.32, 1,0.2],
  [0,1, 0,0, 0.01,0.25, 0.025,0.3, 1,0.2]
];
const KNN_MC = [
  [0,1, 0,0, 1,0.1], [0,1, 0,0, 1,0.102], [0,1, 0,0, 1,0.098], [0,1, 0,0, 1,0.1],
  [0,1, 0,0, 1,0.101], [0,1, 0,0, 1,0.1], [0,1, 0,0, 1,0.099], [0,1, 0,0, 1,0.1]
];

const panels = [
  [IF_CC, IF_COVER, IF_HTTP, IF_KDD, IF_MC],
  [LOF_CC, LOF_COVER, LOF_HTTP, LOF_KDD, LOF_MC],
  [OCSVM_CC, OCSVM_COVER, OCSVM_HTTP, OCSVM_KDD, OCSVM_MC],
  [SAMPP_CC, SAMPP_COVER, SAMPP_HTTP, SAMPP_KDD, SAMPP_MC],
  [SAMPM_CC, SAMPM_COVER, SAMPM_HTTP, SAMPM_KDD, SAMPM_MC],
  [SAMMP_CC, SAMMP_COVER, SAMMP_HTTP, SAMMP_KDD, SAMMP_MC],
  [SAMMM_CC, SAMMM_COVER, SAMMM_HTTP, SAMMM_KDD, SAMMM_MC],
  [KNN_CC, KNN_COVER, KNN_HTTP, KNN_KDD, KNN_MC]
];

// matplotlib tab10 cycle
const tab10 = ['#1f77b4', '#ff7f0e', '#2ca02c', '#d62728', '#9467bd', '#8c564b', '#e377c2', '#7f7f7f', '#bcbd22', '#17becf'];
function withAlpha(hex, a) {
  const n = parseInt(hex.slice(1), 16);
  return `rgba(${(n >> 16) & 255},${(n >> 8) & 255},${n & 255},${a})`;
}

// figure geometry (25x20 in @100dpi, 8x5 subplots)
const AX_LEFT = 312.5, AX_TOP = 240;
const COL_STEP = 410.98, ROW_STEP = 199.63;
const PAD_L = 100, PAD_R = 100, PAD_T = 30, PAD_B = 50;
const AX_W = 294, AX_H = 143;

Chart.defaults.font.family = "'DejaVu Sans', sans-serif";
Chart.defaults.color = '#000';

const frame = {
  id: 'frame',
  afterDatasetsDraw(chart) {
    const { ctx, chartArea: a } = chart;
    ctx.save();
    ctx.strokeStyle = '#000';
    ctx.lineWidth = 1.1;
    ctx.strokeRect(a.left, a.top, a.right - a.left, a.bottom - a.top);
    ctx.restore();
  }
};

const fig = document.getElementById('fig');
const tickGrid = { drawOnChartArea: false, drawTicks: true, tickLength: 5, tickWidth: 1, tickColor: '#000' };

panels.forEach((row, r) => {
  row.forEach((runs, c) => {
    const cv = document.createElement('canvas');
    cv.width = PAD_L + AX_W + PAD_R;
    cv.height = PAD_T + AX_H + PAD_B;
    cv.style.left = (Math.round(AX_LEFT + c * COL_STEP) - PAD_L) + 'px';
    cv.style.top = (Math.round(AX_TOP + r * ROW_STEP) - PAD_T) + 'px';
    fig.appendChild(cv);

    const n = runs.length;
    const datasets = runs.map((flat, i) => {
      const pts = [];
      for (let k = 0; k < flat.length; k += 2) pts.push({ x: flat[k], y: flat[k + 1] });
      return {
        data: pts,
        borderColor: withAlpha(tab10[(i + 16 - n) % 10], 0.5),
        borderWidth: 2,
        pointRadius: 0,
        tension: 0,
        fill: false,
        borderJoinStyle: 'round',
        order: n - i   // later runs are drawn on top, as in matplotlib
      };
    });

    new Chart(cv, {
      type: 'line',
      data: { datasets },
      options: {
        responsive: false,
        animation: false,
        events: [],
        layout: { padding: { left: 0, right: PAD_R, top: 0, bottom: 0 } },
        plugins: {
          legend: { display: false },
          tooltip: { enabled: false },
          title: {
            display: true,
            text: methods[r] + ' - ' + dataNames[c],
            fullSize: false,
            color: '#000',
            font: { size: 16.67, weight: 'normal' },
            padding: { top: 6, bottom: 4 }
          }
        },
        scales: {
          x: {
            type: 'linear', min: -0.05, max: 1.05,
            afterBuildTicks: ax => { ax.ticks = xTicks.map(v => ({ value: v })); },
            afterFit: ax => { ax.height = PAD_B; },
            grid: tickGrid,
            border: { display: false },
            ticks: { display: r === 7, padding: 3.5, autoSkip: false, maxRotation: 0, font: { size: 13.9 }, color: '#000',
                     callback: v => v.toFixed(1) },
            title: { display: true, text: 'Recall', color: '#000', font: { size: 13.9 },
                     padding: { top: 0, bottom: r === 7 ? 6.5 : 26.3 } }
          },
          y: {
            type: 'linear', min: -0.05, max: 1.05,
            afterBuildTicks: ax => { ax.ticks = yTicks.map(v => ({ value: v })); },
            afterFit: ax => { ax.width = PAD_L; },
            grid: tickGrid,
            border: { display: false },
            ticks: { display: c === 0, padding: 5, autoSkip: false, font: { size: 13.9 }, color: '#000',
                     callback: v => v.toFixed(2) },
            title: { display: true, text: 'Precision', color: '#000', font: { size: 13.9 },
                     padding: { top: c === 0 ? 38.5 : 73.7, bottom: 0 } }
          }
        }
      },
      plugins: [frame]
    });
  });
});
</script>
</body>
</html>
